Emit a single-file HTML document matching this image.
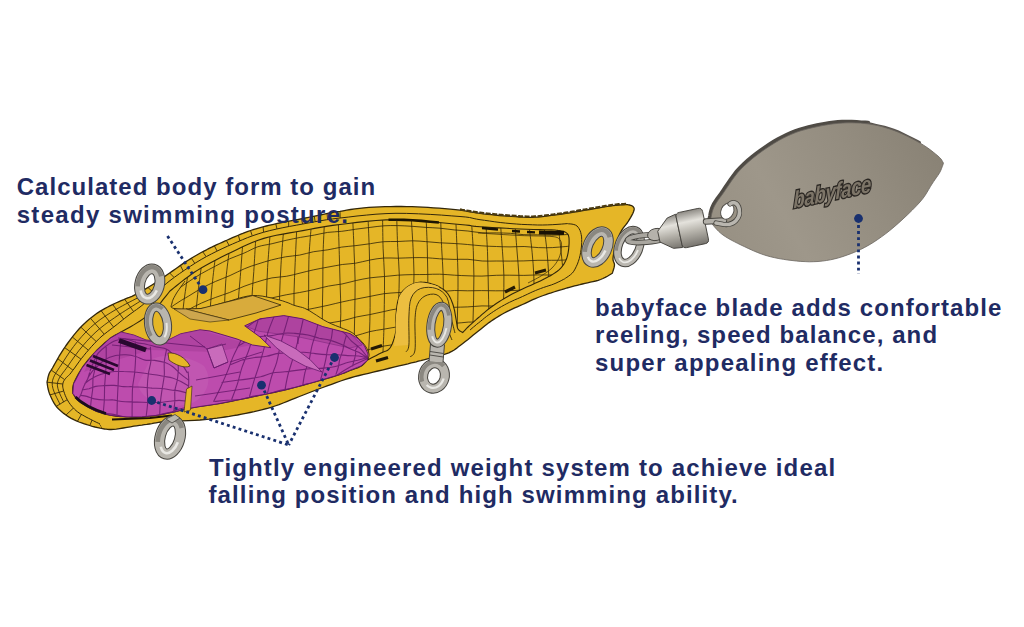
<!DOCTYPE html>
<html><head><meta charset="utf-8"><title>lure</title><style>
html,body{margin:0;padding:0;background:#fff;}
body{width:1024px;height:627px;position:relative;overflow:hidden;font-family:"Liberation Sans",sans-serif;}
.t{position:absolute;white-space:nowrap;font-family:"Liberation Sans",sans-serif;font-weight:bold;color:#1f2b63;font-size:24px;line-height:28px;letter-spacing:1.1px;}
</style></head><body>
<svg width="1024" height="627" viewBox="0 0 1024 627" style="position:absolute;left:0;top:0;filter:blur(0.4px)">
<defs>
<clipPath id="cSil"><path d="M47.0 382.2L47.2 381.3L47.5 380.0L47.8 378.5L48.1 376.9L48.6 375.3L49.0 374.0L49.4 373.0L49.8 372.3L50.2 371.6L50.7 370.9L51.5 369.7L52.5 368.0L53.8 365.6L55.4 362.8L57.2 359.6L59.1 356.2L61.2 352.8L63.4 349.4L65.7 346.0L68.2 342.5L70.9 338.9L73.6 335.4L76.3 332.1L79.0 329.0L81.6 326.2L84.2 323.7L86.9 321.3L89.5 319.1L92.1 317.0L94.7 315.0L97.3 313.1L99.9 311.4L102.5 309.9L105.1 308.4L107.7 307.0L110.3 305.6L113.0 304.3L115.8 303.0L118.5 301.8L121.2 300.6L123.8 299.6L126.0 298.6L127.8 297.8L129.3 297.3L130.6 296.8L131.9 296.3L133.4 295.6L135.3 294.7L137.6 293.4L140.3 292.0L143.1 290.4L146.1 288.6L149.1 286.8L152.0 285.0L155.0 283.1L158.0 281.1L161.1 279.0L164.1 276.9L167.1 274.8L170.0 272.8L172.7 270.9L175.4 269.0L177.9 267.2L180.5 265.4L183.0 263.6L185.6 261.9L188.2 260.2L190.8 258.6L193.4 257.0L196.0 255.5L198.6 254.0L201.2 252.5L203.9 251.1L206.5 249.8L209.1 248.4L211.7 247.2L214.3 245.9L216.9 244.7L219.5 243.5L222.1 242.3L224.7 241.1L227.3 240.0L229.9 238.8L232.5 237.7L235.1 236.6L237.7 235.5L240.2 234.4L242.8 233.4L245.4 232.3L248.0 231.4L250.6 230.5L253.2 229.7L255.9 228.9L258.5 228.1L261.1 227.4L263.8 226.7L266.3 226.0L268.7 225.4L271.1 224.8L273.6 224.3L276.3 223.7L279.4 223.0L282.8 222.3L286.5 221.6L290.4 220.9L294.4 220.1L298.6 219.3L302.8 218.5L307.3 217.6L312.2 216.6L317.2 215.6L322.1 214.6L326.4 213.7L330.0 213.0L332.5 212.5L334.1 212.2L335.2 212.0L336.3 211.9L337.7 211.6L340.0 211.3L343.1 210.8L346.7 210.2L350.6 209.5L354.9 208.9L359.4 208.3L364.0 207.8L368.9 207.4L374.1 207.1L379.5 206.9L385.0 206.7L390.6 206.6L396.0 206.5L401.3 206.5L406.7 206.6L412.0 206.7L417.3 206.9L422.7 207.1L428.0 207.4L433.5 207.8L439.1 208.2L444.8 208.7L450.2 209.2L455.4 209.7L460.0 210.2L464.0 210.7L467.4 211.3L470.5 211.8L473.5 212.4L476.6 212.9L480.0 213.4L483.7 213.9L487.5 214.3L491.5 214.7L495.5 215.1L499.4 215.5L503.4 215.8L507.4 216.1L511.6 216.4L515.7 216.7L519.7 217.0L523.5 217.2L527.0 217.3L530.0 217.3L532.5 217.3L534.8 217.2L537.0 217.1L539.5 216.9L542.5 216.6L546.0 216.2L549.7 215.7L553.8 215.2L557.9 214.6L562.0 214.0L566.0 213.4L569.9 212.8L573.8 212.2L577.7 211.5L581.6 210.8L585.5 210.2L589.4 209.5L593.4 208.8L597.5 208.1L601.7 207.4L605.7 206.7L609.4 206.1L612.8 205.6L615.9 205.3L618.7 205.0L621.4 204.9L623.7 204.8L625.6 204.7L627.0 204.6L627.6 204.7L628.5 204.9L629.5 205.0L630.6 205.3L631.6 205.6L632.3 206.0L632.9 206.5L633.4 207.0L633.8 207.6L634.1 208.3L634.2 209.2L634.0 210.3L633.5 211.7L632.8 213.5L631.8 215.4L630.7 217.4L629.5 219.3L628.4 221.2L627.2 223.0L625.9 224.7L624.5 226.4L623.1 228.2L621.8 230.1L620.6 232.2L619.5 234.6L618.4 237.3L617.4 240.1L616.5 242.9L615.7 245.6L615.0 248.0L614.4 250.2L613.9 252.2L613.6 254.1L613.3 255.9L613.1 257.5L613.0 259.0L613.1 260.3L613.4 261.3L613.8 262.2L614.1 263.0L614.4 263.9L614.5 265.0L614.3 266.3L614.0 267.9L613.5 269.5L613.0 271.1L612.6 272.4L612.3 273.3L611.1 274.0L609.4 275.0L607.4 276.2L605.2 277.4L602.9 278.5L600.6 279.5L598.2 280.3L595.7 281.0L593.0 281.6L590.3 282.2L587.6 282.8L585.0 283.4L582.4 284.0L579.8 284.7L577.2 285.3L574.6 285.9L572.0 286.6L569.4 287.3L566.8 288.0L564.2 288.8L561.6 289.6L559.0 290.3L556.4 291.2L553.8 292.0L551.2 292.9L548.5 293.7L545.9 294.6L543.3 295.5L540.6 296.5L538.0 297.5L535.4 298.6L532.8 299.7L530.2 300.9L527.7 302.1L525.1 303.3L522.5 304.5L519.9 305.7L517.3 306.8L514.7 307.9L512.1 309.1L509.5 310.3L506.9 311.6L504.3 313.0L501.6 314.5L498.9 316.1L496.3 317.7L493.7 319.4L491.3 321.0L489.0 322.6L486.9 324.2L484.9 325.8L482.8 327.5L480.7 329.2L478.4 331.0L475.9 333.0L473.3 335.1L470.7 337.2L468.0 339.4L465.3 341.5L462.8 343.4L460.5 345.2L458.4 346.8L456.4 348.4L454.2 350.0L451.7 351.4L448.8 352.8L445.1 354.1L440.9 355.4L436.4 356.6L431.8 357.8L427.5 358.8L423.8 359.8L420.8 360.6L418.3 361.2L416.2 361.8L414.0 362.3L411.3 362.9L408.0 363.8L403.8 364.8L399.0 365.9L393.8 367.2L388.4 368.5L383.0 369.8L378.0 371.0L373.2 372.2L368.5 373.3L363.8 374.4L359.2 375.5L354.6 376.7L350.0 378.0L345.4 379.4L340.7 381.0L336.1 382.6L331.6 384.3L327.1 385.9L322.8 387.5L318.7 389.0L314.8 390.5L310.9 392.0L307.1 393.5L303.3 395.0L299.4 396.5L295.4 398.1L291.4 399.7L287.3 401.4L283.2 403.0L279.1 404.6L275.0 406.0L270.9 407.3L266.7 408.5L262.5 409.6L258.4 410.6L254.2 411.6L250.0 412.5L245.8 413.4L241.7 414.2L237.5 415.0L233.3 415.7L229.2 416.4L225.0 417.0L220.9 417.6L217.0 418.2L213.1 418.7L209.1 419.2L204.7 419.6L200.0 420.0L194.5 420.3L188.4 420.6L181.9 420.8L175.6 421.1L169.8 421.3L165.0 421.6L161.3 422.0L158.4 422.3L156.0 422.8L153.9 423.2L151.8 423.6L149.4 424.0L146.8 424.4L144.4 424.7L141.9 425.1L139.3 425.4L136.6 425.8L133.8 426.2L130.5 426.8L127.0 427.4L123.3 428.0L119.7 428.6L116.3 429.1L113.4 429.4L111.1 429.5L109.2 429.5L107.7 429.4L106.1 429.2L104.5 429.0L102.5 428.6L100.2 428.2L97.6 427.6L95.0 427.0L92.3 426.3L89.6 425.5L86.9 424.7L84.3 423.8L81.6 422.9L79.0 422.0L76.4 420.9L73.8 419.7L71.2 418.4L68.7 416.9L66.2 415.2L63.7 413.4L61.4 411.5L59.2 409.6L57.2 407.5L55.5 405.3L53.9 402.9L52.6 400.5L51.4 398.0L50.3 395.6L49.4 393.4L48.7 391.2L48.1 389.0L47.7 386.9L47.4 385.0L47.2 383.4L47.0 382.2Z"/></clipPath>
<clipPath id="cFW"><path d="M185.0 279.0L186.6 277.9L188.7 276.3L191.2 274.5L194.1 272.5L197.5 270.3L201.2 268.0L205.6 265.6L210.6 262.8L215.9 260.0L221.5 257.1L227.1 254.3L232.5 251.7L237.6 249.2L242.6 246.8L247.6 244.5L252.8 242.3L258.1 240.3L263.8 238.4L269.8 236.8L276.3 235.3L282.9 234.1L289.6 232.9L296.3 231.7L302.8 230.6L308.9 229.5L314.6 228.4L320.3 227.4L326.3 226.4L332.7 225.4L340.0 224.5L348.2 223.5L357.0 222.4L366.3 221.4L376.0 220.5L386.0 219.9L396.0 219.7L406.7 220.0L418.4 220.7L430.2 221.7L441.6 222.7L451.8 223.7L460.0 224.5L465.6 225.0L469.2 225.4L471.5 225.8L473.5 226.1L476.0 226.4L480.0 226.7L485.6 227.1L492.0 227.5L499.1 227.9L506.3 228.3L513.4 228.7L520.0 229.0L526.5 229.3L533.3 229.5L540.0 229.6L546.1 229.8L551.2 229.9L555.0 230.0L556.2 230.2L557.8 230.4L559.8 230.6L561.7 231.0L563.6 231.4L565.0 232.0L566.1 232.6L567.0 233.3L567.7 234.0L568.3 235.0L568.7 236.3L569.0 238.0L569.1 240.3L569.1 243.2L568.9 246.4L568.6 249.7L568.1 252.8L567.5 255.6L566.8 258.0L565.9 260.3L564.8 262.4L563.7 264.4L562.4 266.2L561.0 268.0L559.3 269.7L557.3 271.3L555.1 272.8L553.0 274.1L551.2 275.2L550.0 276.0L548.7 276.6L547.0 277.5L545.0 278.6L542.7 279.7L540.3 280.9L538.0 282.0L535.6 283.1L533.1 284.2L530.5 285.4L527.8 286.6L525.1 287.8L522.5 289.0L519.9 290.3L517.3 291.5L514.7 292.8L512.1 294.1L509.5 295.5L506.9 297.0L504.3 298.5L501.6 300.1L499.0 301.8L496.3 303.5L493.8 305.3L491.3 307.0L488.9 308.8L486.6 310.7L484.3 312.6L482.1 314.4L480.0 316.3L478.0 318.0L476.1 319.7L474.2 321.3L472.5 322.8L470.9 324.3L469.4 325.7L468.0 327.0L466.8 328.2L465.7 329.3L464.8 330.3L464.0 331.2L463.3 331.9L462.8 332.5L462.2 332.2L461.4 331.8L460.5 331.3L459.6 330.7L458.7 329.9L458.0 329.0L457.5 327.9L457.2 326.6L457.0 325.2L456.8 323.6L456.5 321.9L456.2 320.0L455.8 317.9L455.4 315.6L455.0 313.2L454.6 310.7L454.0 308.3L453.4 306.0L452.7 303.8L451.9 301.7L451.1 299.6L450.1 297.6L449.1 295.7L448.0 294.0L446.8 292.5L445.5 291.2L444.1 290.0L442.6 288.9L441.0 287.9L439.4 287.0L437.7 286.1L435.8 285.3L433.8 284.6L431.8 284.0L429.9 283.4L428.0 283.0L426.2 282.6L424.5 282.4L422.8 282.2L421.0 282.1L419.3 282.2L417.5 282.5L415.6 283.0L413.6 283.7L411.5 284.6L409.6 285.6L407.7 286.8L406.0 288.0L404.5 289.3L403.1 290.7L401.8 292.3L400.7 294.0L399.6 295.9L398.8 298.0L398.0 300.4L397.4 303.1L396.9 306.0L396.6 309.0L396.3 312.1L396.0 315.0L395.9 317.9L395.9 320.9L396.0 323.8L396.0 326.8L395.9 329.7L395.6 332.5L395.0 335.3L394.2 338.2L393.3 341.0L392.3 343.7L391.2 346.0L390.0 348.0L388.7 349.4L387.4 350.4L386.0 351.0L384.5 351.6L382.8 352.2L381.0 353.0L378.9 354.1L376.3 355.4L373.7 356.8L371.2 358.1L369.0 359.2L367.5 360.0L367.7 359.4L368.1 358.5L368.5 357.5L368.9 356.4L369.1 355.2L369.0 354.0L368.7 352.7L368.2 351.3L367.5 349.8L366.8 348.4L365.9 346.9L365.0 345.5L364.0 344.2L362.9 342.9L361.8 341.6L360.5 340.4L359.3 339.2L358.0 338.0L356.9 336.9L355.9 335.9L355.0 334.9L353.8 333.9L352.2 332.7L350.0 331.5L347.1 330.1L343.5 328.7L339.5 327.1L335.4 325.5L331.3 323.8L327.5 322.0L323.9 320.0L320.2 317.7L316.6 315.3L313.1 313.1L309.9 311.0L307.0 309.4L304.5 308.3L302.5 307.5L300.7 307.1L299.0 306.7L297.1 306.2L295.0 305.6L292.7 304.8L290.5 303.8L288.1 302.8L285.5 301.9L282.7 300.9L279.4 300.0L275.6 299.1L271.4 298.0L266.9 297.0L262.2 296.1L257.4 295.6L252.8 295.5L248.2 296.0L243.4 297.0L238.6 298.3L233.8 299.8L229.1 301.3L224.7 302.5L220.5 303.6L216.6 304.8L212.8 305.9L209.0 307.0L205.1 307.9L201.0 308.5L196.4 308.9L191.3 309.1L186.1 309.2L181.3 309.1L177.1 308.9L174.0 308.5L172.2 307.9L171.3 307.2L171.1 306.3L171.3 305.3L171.7 304.2L172.0 303.0L172.3 301.7L172.7 300.4L173.3 299.0L174.1 297.4L175.0 295.8L176.0 294.0L177.3 291.9L179.0 289.5L180.8 286.9L182.5 284.5L184.0 282.5L185.0 281.0Z"/></clipPath>
<clipPath id="cHood"><path d="M102.5 428.6L100.8 428.2L98.5 427.7L95.7 427.0L92.7 426.3L89.7 425.5L86.9 424.7L84.3 423.8L81.6 422.9L79.0 422.0L76.4 420.9L73.8 419.7L71.2 418.4L68.7 416.9L66.2 415.2L63.7 413.4L61.4 411.5L59.2 409.6L57.2 407.5L55.5 405.3L53.9 402.9L52.6 400.5L51.4 398.0L50.3 395.6L49.4 393.4L48.6 391.3L48.0 389.3L47.6 387.4L47.3 385.6L47.1 383.9L47.0 382.2L47.1 380.6L47.3 379.2L47.6 377.8L48.1 376.5L48.5 375.2L49.0 374.0L49.4 373.0L49.8 372.3L50.2 371.6L50.7 370.9L51.5 369.7L52.5 368.0L53.8 365.6L55.4 362.8L57.2 359.6L59.1 356.2L61.2 352.8L63.4 349.4L65.7 346.0L68.2 342.5L70.9 338.9L73.6 335.4L76.3 332.1L79.0 329.0L81.6 326.2L84.2 323.7L86.9 321.3L89.5 319.1L92.1 317.0L94.7 315.0L97.3 313.1L99.9 311.4L102.5 309.9L105.1 308.4L107.7 307.0L110.3 305.6L113.0 304.3L115.8 303.0L118.5 301.8L121.2 300.6L123.8 299.6L126.0 298.6L127.8 297.8L129.3 297.3L130.6 296.8L131.9 296.3L133.4 295.6L135.3 294.7L137.6 293.4L140.3 292.0L143.1 290.4L146.1 288.6L149.1 286.8L152.0 285.0L155.0 283.1L158.0 281.1L161.1 279.0L164.1 276.9L167.1 274.8L170.0 272.8L172.7 270.9L175.4 269.0L177.9 267.2L180.5 265.4L183.0 263.6L185.6 261.9L188.2 260.2L190.8 258.6L193.4 257.0L196.0 255.5L198.6 254.0L201.2 252.5L203.9 251.1L206.5 249.8L209.1 248.4L211.7 247.2L214.3 245.9L216.9 244.7L219.5 243.5L222.1 242.3L224.7 241.1L227.3 240.0L229.9 238.8L232.5 237.7L235.1 236.6L237.7 235.5L240.2 234.4L242.8 233.4L245.4 232.3L248.0 231.4L250.6 230.5L253.2 229.7L255.9 228.9L258.5 228.1L261.1 227.4L263.8 226.7L266.3 226.0L268.7 225.4L271.1 224.8L273.6 224.3L276.3 223.7L279.4 223.0L282.8 222.3L286.5 221.6L290.4 220.9L294.4 220.1L298.6 219.3L302.8 218.5L307.3 217.6L312.2 216.6L317.2 215.6L322.1 214.6L326.4 213.7L330.0 213.0L332.5 212.5L334.1 212.2L335.2 212.0L336.3 211.9L337.7 211.6L340.0 211.3L343.1 210.8L346.7 210.2L350.6 209.5L354.9 208.9L359.4 208.3L364.0 207.8L368.9 207.4L374.1 207.1L379.5 206.9L385.0 206.7L390.6 206.6L396.0 206.5L401.3 206.5L406.7 206.6L412.0 206.7L417.3 206.9L422.7 207.1L428.0 207.4L433.5 207.8L439.1 208.2L444.8 208.7L450.2 209.2L455.4 209.7L460.0 210.2L464.0 210.7L467.4 211.3L470.5 211.8L473.5 212.4L476.6 212.9L480.0 213.4L483.7 213.9L487.5 214.3L491.5 214.7L495.5 215.1L499.4 215.5L503.4 215.8L507.4 216.1L511.6 216.4L515.7 216.7L519.7 217.0L523.5 217.2L527.0 217.3L530.0 217.3L532.5 217.3L534.8 217.2L537.0 217.1L539.5 216.9L542.5 216.6L546.0 216.2L549.7 215.7L553.8 215.2L557.9 214.6L562.0 214.0L566.0 213.4L569.9 212.8L573.8 212.2L577.7 211.5L581.6 210.8L585.5 210.2L589.4 209.5L593.5 208.8L597.8 208.1L602.1 207.3L606.2 206.7L609.8 206.1L612.8 205.6L615.0 205.3L616.7 205.1L617.9 205.1L618.7 205.0L619.4 205.0L620.0 205.0L620.0 212.0L614.7 213.2L606.9 214.9L598.0 216.9L588.9 218.9L580.9 220.7L575.0 222.0L571.8 222.8L570.4 223.2L570.0 223.3L569.9 223.4L569.3 223.4L567.5 223.6L564.4 223.9L560.7 224.2L556.5 224.5L552.0 224.7L547.2 224.9L542.5 225.0L537.6 225.0L532.5 224.8L527.1 224.6L521.7 224.4L516.3 224.0L511.0 223.6L505.7 223.1L500.2 222.5L494.8 221.8L489.5 221.0L484.5 220.3L480.0 219.7L476.5 219.1L474.1 218.6L472.1 218.1L469.5 217.5L465.8 217.0L460.0 216.5L451.8 215.9L441.6 215.1L430.2 214.4L418.4 213.8L406.7 213.4L396.0 213.3L386.0 213.6L376.0 214.2L366.3 215.1L357.0 216.0L348.2 217.1L340.0 218.0L332.7 218.9L326.3 219.8L320.3 220.8L314.6 221.8L308.9 222.9L302.8 224.0L296.3 225.2L289.6 226.4L282.9 227.7L276.3 229.1L269.8 230.6L263.8 232.2L258.1 233.9L252.8 235.7L247.6 237.6L242.6 239.7L237.6 241.8L232.5 244.0L227.3 246.3L222.1 248.7L216.9 251.2L211.7 253.8L206.5 256.5L201.2 259.5L195.9 262.7L190.3 266.3L184.8 270.0L179.4 273.7L174.4 277.3L170.0 280.6L166.2 283.7L162.8 286.7L159.8 289.5L157.1 292.2L154.5 294.7L152.0 297.0L149.6 299.1L147.5 300.9L145.6 302.5L143.7 304.1L141.9 305.5L140.0 307.0L138.1 308.4L136.4 309.7L134.6 310.9L132.9 312.2L131.0 313.5L129.0 315.0L126.9 316.6L124.6 318.4L122.3 320.2L119.9 322.1L117.5 324.1L115.0 326.0L112.5 327.9L109.9 329.9L107.3 331.8L104.7 333.9L102.0 336.0L99.4 338.4L96.8 341.0L94.1 343.8L91.4 346.7L88.8 349.7L86.2 352.7L83.8 355.6L81.4 358.6L79.0 361.8L76.7 365.0L74.6 368.0L72.6 370.6L71.0 372.8L69.7 374.4L68.7 375.4L67.9 376.2L67.2 376.7L66.6 377.3L66.0 378.0L65.3 378.8L64.7 379.6L64.2 380.4L63.7 381.2L63.3 382.1L63.0 383.0L62.8 384.0L62.7 385.0L62.7 386.1L62.8 387.3L63.1 388.6L63.4 390.0L63.9 391.6L64.5 393.4L65.2 395.3L66.1 397.3L67.0 399.2L68.0 401.0L69.1 402.7L70.3 404.4L71.7 406.1L73.1 407.7L74.5 409.2L76.0 410.6L77.5 411.8L79.0 412.9L80.6 414.0L82.3 414.9L84.1 415.9L86.0 417.0L88.3 418.2L90.9 419.5L93.6 420.9L96.2 422.2L98.4 423.2L100.0 424.0Z"/></clipPath>
<linearGradient id="gBlade" gradientUnits="userSpaceOnUse" x1="720" y1="250" x2="930" y2="130"><stop offset="0" stop-color="#979083"/><stop offset="0.3" stop-color="#9e978a"/><stop offset="0.65" stop-color="#948d80"/><stop offset="1" stop-color="#898275"/></linearGradient>
<linearGradient id="gSw" x1="0" y1="0" x2="0" y2="1"><stop offset="0" stop-color="#8d8a84"/><stop offset="0.3" stop-color="#e4e2dc"/><stop offset="0.6" stop-color="#b5b2aa"/><stop offset="1" stop-color="#77746e"/></linearGradient>
</defs>
<path d="M47.0 382.2L47.2 381.3L47.5 380.0L47.8 378.5L48.1 376.9L48.6 375.3L49.0 374.0L49.4 373.0L49.8 372.3L50.2 371.6L50.7 370.9L51.5 369.7L52.5 368.0L53.8 365.6L55.4 362.8L57.2 359.6L59.1 356.2L61.2 352.8L63.4 349.4L65.7 346.0L68.2 342.5L70.9 338.9L73.6 335.4L76.3 332.1L79.0 329.0L81.6 326.2L84.2 323.7L86.9 321.3L89.5 319.1L92.1 317.0L94.7 315.0L97.3 313.1L99.9 311.4L102.5 309.9L105.1 308.4L107.7 307.0L110.3 305.6L113.0 304.3L115.8 303.0L118.5 301.8L121.2 300.6L123.8 299.6L126.0 298.6L127.8 297.8L129.3 297.3L130.6 296.8L131.9 296.3L133.4 295.6L135.3 294.7L137.6 293.4L140.3 292.0L143.1 290.4L146.1 288.6L149.1 286.8L152.0 285.0L155.0 283.1L158.0 281.1L161.1 279.0L164.1 276.9L167.1 274.8L170.0 272.8L172.7 270.9L175.4 269.0L177.9 267.2L180.5 265.4L183.0 263.6L185.6 261.9L188.2 260.2L190.8 258.6L193.4 257.0L196.0 255.5L198.6 254.0L201.2 252.5L203.9 251.1L206.5 249.8L209.1 248.4L211.7 247.2L214.3 245.9L216.9 244.7L219.5 243.5L222.1 242.3L224.7 241.1L227.3 240.0L229.9 238.8L232.5 237.7L235.1 236.6L237.7 235.5L240.2 234.4L242.8 233.4L245.4 232.3L248.0 231.4L250.6 230.5L253.2 229.7L255.9 228.9L258.5 228.1L261.1 227.4L263.8 226.7L266.3 226.0L268.7 225.4L271.1 224.8L273.6 224.3L276.3 223.7L279.4 223.0L282.8 222.3L286.5 221.6L290.4 220.9L294.4 220.1L298.6 219.3L302.8 218.5L307.3 217.6L312.2 216.6L317.2 215.6L322.1 214.6L326.4 213.7L330.0 213.0L332.5 212.5L334.1 212.2L335.2 212.0L336.3 211.9L337.7 211.6L340.0 211.3L343.1 210.8L346.7 210.2L350.6 209.5L354.9 208.9L359.4 208.3L364.0 207.8L368.9 207.4L374.1 207.1L379.5 206.9L385.0 206.7L390.6 206.6L396.0 206.5L401.3 206.5L406.7 206.6L412.0 206.7L417.3 206.9L422.7 207.1L428.0 207.4L433.5 207.8L439.1 208.2L444.8 208.7L450.2 209.2L455.4 209.7L460.0 210.2L464.0 210.7L467.4 211.3L470.5 211.8L473.5 212.4L476.6 212.9L480.0 213.4L483.7 213.9L487.5 214.3L491.5 214.7L495.5 215.1L499.4 215.5L503.4 215.8L507.4 216.1L511.6 216.4L515.7 216.7L519.7 217.0L523.5 217.2L527.0 217.3L530.0 217.3L532.5 217.3L534.8 217.2L537.0 217.1L539.5 216.9L542.5 216.6L546.0 216.2L549.7 215.7L553.8 215.2L557.9 214.6L562.0 214.0L566.0 213.4L569.9 212.8L573.8 212.2L577.7 211.5L581.6 210.8L585.5 210.2L589.4 209.5L593.4 208.8L597.5 208.1L601.7 207.4L605.7 206.7L609.4 206.1L612.8 205.6L615.9 205.3L618.7 205.0L621.4 204.9L623.7 204.8L625.6 204.7L627.0 204.6L627.6 204.7L628.5 204.9L629.5 205.0L630.6 205.3L631.6 205.6L632.3 206.0L632.9 206.5L633.4 207.0L633.8 207.6L634.1 208.3L634.2 209.2L634.0 210.3L633.5 211.7L632.8 213.5L631.8 215.4L630.7 217.4L629.5 219.3L628.4 221.2L627.2 223.0L625.9 224.7L624.5 226.4L623.1 228.2L621.8 230.1L620.6 232.2L619.5 234.6L618.4 237.3L617.4 240.1L616.5 242.9L615.7 245.6L615.0 248.0L614.4 250.2L613.9 252.2L613.6 254.1L613.3 255.9L613.1 257.5L613.0 259.0L613.1 260.3L613.4 261.3L613.8 262.2L614.1 263.0L614.4 263.9L614.5 265.0L614.3 266.3L614.0 267.9L613.5 269.5L613.0 271.1L612.6 272.4L612.3 273.3L611.1 274.0L609.4 275.0L607.4 276.2L605.2 277.4L602.9 278.5L600.6 279.5L598.2 280.3L595.7 281.0L593.0 281.6L590.3 282.2L587.6 282.8L585.0 283.4L582.4 284.0L579.8 284.7L577.2 285.3L574.6 285.9L572.0 286.6L569.4 287.3L566.8 288.0L564.2 288.8L561.6 289.6L559.0 290.3L556.4 291.2L553.8 292.0L551.2 292.9L548.5 293.7L545.9 294.6L543.3 295.5L540.6 296.5L538.0 297.5L535.4 298.6L532.8 299.7L530.2 300.9L527.7 302.1L525.1 303.3L522.5 304.5L519.9 305.7L517.3 306.8L514.7 307.9L512.1 309.1L509.5 310.3L506.9 311.6L504.3 313.0L501.6 314.5L498.9 316.1L496.3 317.7L493.7 319.4L491.3 321.0L489.0 322.6L486.9 324.2L484.9 325.8L482.8 327.5L480.7 329.2L478.4 331.0L475.9 333.0L473.3 335.1L470.7 337.2L468.0 339.4L465.3 341.5L462.8 343.4L460.5 345.2L458.4 346.8L456.4 348.4L454.2 350.0L451.7 351.4L448.8 352.8L445.1 354.1L440.9 355.4L436.4 356.6L431.8 357.8L427.5 358.8L423.8 359.8L420.8 360.6L418.3 361.2L416.2 361.8L414.0 362.3L411.3 362.9L408.0 363.8L403.8 364.8L399.0 365.9L393.8 367.2L388.4 368.5L383.0 369.8L378.0 371.0L373.2 372.2L368.5 373.3L363.8 374.4L359.2 375.5L354.6 376.7L350.0 378.0L345.4 379.4L340.7 381.0L336.1 382.6L331.6 384.3L327.1 385.9L322.8 387.5L318.7 389.0L314.8 390.5L310.9 392.0L307.1 393.5L303.3 395.0L299.4 396.5L295.4 398.1L291.4 399.7L287.3 401.4L283.2 403.0L279.1 404.6L275.0 406.0L270.9 407.3L266.7 408.5L262.5 409.6L258.4 410.6L254.2 411.6L250.0 412.5L245.8 413.4L241.7 414.2L237.5 415.0L233.3 415.7L229.2 416.4L225.0 417.0L220.9 417.6L217.0 418.2L213.1 418.7L209.1 419.2L204.7 419.6L200.0 420.0L194.5 420.3L188.4 420.6L181.9 420.8L175.6 421.1L169.8 421.3L165.0 421.6L161.3 422.0L158.4 422.3L156.0 422.8L153.9 423.2L151.8 423.6L149.4 424.0L146.8 424.4L144.4 424.7L141.9 425.1L139.3 425.4L136.6 425.8L133.8 426.2L130.5 426.8L127.0 427.4L123.3 428.0L119.7 428.6L116.3 429.1L113.4 429.4L111.1 429.5L109.2 429.5L107.7 429.4L106.1 429.2L104.5 429.0L102.5 428.6L100.2 428.2L97.6 427.6L95.0 427.0L92.3 426.3L89.6 425.5L86.9 424.7L84.3 423.8L81.6 422.9L79.0 422.0L76.4 420.9L73.8 419.7L71.2 418.4L68.7 416.9L66.2 415.2L63.7 413.4L61.4 411.5L59.2 409.6L57.2 407.5L55.5 405.3L53.9 402.9L52.6 400.5L51.4 398.0L50.3 395.6L49.4 393.4L48.7 391.2L48.1 389.0L47.7 386.9L47.4 385.0L47.2 383.4L47.0 382.2Z" fill="#e5b627" stroke="#33270a" stroke-width="1.3" stroke-linejoin="round"/>
<path d="M460.0 209.4L462.1 209.8L465.1 210.3L468.5 210.8L472.3 211.5L476.2 212.1L480.0 212.6L483.7 213.1L487.5 213.5L491.5 213.9L495.5 214.3L499.4 214.7L503.4 215.0L507.4 215.3L511.6 215.6L515.7 215.9L519.7 216.2L523.5 216.4L527.0 216.5L530.0 216.5L532.5 216.5L534.8 216.4L537.0 216.3L539.5 216.1L542.5 215.8L546.0 215.4L549.7 214.9L553.8 214.4L557.9 213.8L562.0 213.2L566.0 212.6L569.9 212.0L573.8 211.4L577.7 210.7L581.6 210.0L585.5 209.4L589.4 208.7L593.4 208.0L597.5 207.3L601.7 206.6L605.7 205.9L609.4 205.3L612.8 204.8L615.9 204.5L618.7 204.2L621.4 204.1L623.7 204.0L625.6 203.9L627.0 203.8" fill="none" stroke="#4a3a10" stroke-width="2.2" stroke-dasharray="5 1.5"/>
<path d="M170.0 291.0L171.6 289.7L173.8 287.9L176.5 285.7L179.4 283.4L182.3 281.1L185.0 279.0L187.5 277.2L189.8 275.5L192.1 273.8L194.7 272.0L197.7 270.1L201.2 268.0L205.6 265.6L210.6 262.8L215.9 260.0L221.5 257.1L227.1 254.3L232.5 251.7L237.6 249.2L242.6 246.8L247.6 244.5L252.8 242.3L258.1 240.3L263.8 238.4L269.8 236.8L276.3 235.3L282.9 234.1L289.6 232.9L296.3 231.7L302.8 230.6L308.9 229.5L314.6 228.4L320.3 227.4L326.3 226.4L332.7 225.4L340.0 224.5L348.2 223.5L357.0 222.4L366.3 221.4L376.0 220.5L386.0 219.9L396.0 219.7L406.7 220.0L418.4 220.7L430.2 221.7L441.6 222.7L451.8 223.7L460.0 224.5L465.6 225.0L469.2 225.4L471.5 225.8L473.5 226.1L476.0 226.4L480.0 226.7L485.6 227.1L492.0 227.5L499.1 227.9L506.3 228.3L513.4 228.7L520.0 229.0L526.5 229.3L533.3 229.5L540.0 229.6L546.1 229.8L551.2 229.9L555.0 230.0L556.2 230.2L557.8 230.4L559.8 230.6L561.7 231.0L563.6 231.4L565.0 232.0L566.1 232.6L567.0 233.3L567.7 234.0L568.3 235.0L568.7 236.3L569.0 238.0L569.1 240.3L569.1 243.2L568.9 246.4L568.6 249.7L568.1 252.8L567.5 255.6L566.8 258.0L565.9 260.3L564.8 262.4L563.7 264.4L562.4 266.2L561.0 268.0L559.3 269.7L557.3 271.3L555.1 272.8L553.0 274.1L551.2 275.2L550.0 276.0L548.7 276.6L547.0 277.5L545.0 278.6L542.7 279.7L540.3 280.9L538.0 282.0L535.6 283.1L533.1 284.2L530.5 285.4L527.8 286.6L525.1 287.8L522.5 289.0L519.9 290.3L517.3 291.5L514.7 292.8L512.1 294.1L509.5 295.5L506.9 297.0L504.3 298.5L501.6 300.1L499.0 301.8L496.3 303.5L493.8 305.3L491.3 307.0L488.9 308.8L486.6 310.7L484.3 312.6L482.1 314.4L480.0 316.3L478.0 318.0L476.1 319.7L474.2 321.3L472.5 322.8L470.9 324.3L469.4 325.7L468.0 327.0L466.8 328.2L465.7 329.3L464.8 330.3L464.0 331.2L463.3 331.9L462.8 332.5L462.2 332.2L461.4 331.8L460.5 331.3L459.6 330.7L458.7 329.9L458.0 329.0L457.5 327.9L457.2 326.6L457.0 325.2L456.8 323.6L456.5 321.9L456.2 320.0L455.8 317.9L455.4 315.6L455.0 313.2L454.6 310.7L454.0 308.3L453.4 306.0L452.7 303.8L451.9 301.7L451.1 299.6L450.1 297.6L449.1 295.7L448.0 294.0L446.8 292.5L445.5 291.2L444.1 290.0L442.6 288.9L441.0 287.9L439.4 287.0L437.7 286.1L435.8 285.3L433.8 284.6L431.8 284.0L429.9 283.4L428.0 283.0L426.2 282.6L424.5 282.4L422.8 282.2L421.0 282.1L419.3 282.2L417.5 282.5L415.6 283.0L413.6 283.7L411.5 284.6L409.6 285.6L407.7 286.8L406.0 288.0L404.5 289.3L403.1 290.7L401.8 292.3L400.7 294.0L399.6 295.9L398.8 298.0L398.0 300.4L397.4 303.1L396.9 306.0L396.6 309.0L396.3 312.1L396.0 315.0L395.9 317.9L395.9 320.9L396.0 323.8L396.0 326.8L395.9 329.7L395.6 332.5L395.0 335.3L394.2 338.2L393.3 341.0L392.3 343.7L391.2 346.0L390.0 348.0L388.7 349.4L387.4 350.4L386.0 351.0L384.5 351.6L382.8 352.2L381.0 353.0L378.9 354.1L376.3 355.4L373.7 356.8L371.2 358.1L369.0 359.2L367.5 360.0L366.8 360.7L366.0 361.7L364.9 362.9L363.7 364.1L362.4 365.3L361.0 366.3L359.4 367.1L357.6 367.9L355.7 368.6L353.8 369.3L351.8 369.9L350.0 370.6L348.5 371.2L347.3 371.8L346.1 372.3L344.7 372.9L342.8 373.6L340.0 374.5L336.2 375.7L331.6 377.1L326.4 378.6L321.0 380.1L315.8 381.6L311.0 383.0L306.7 384.2L302.6 385.4L298.6 386.5L294.7 387.5L290.9 388.5L287.0 389.5L283.1 390.4L279.3 391.3L275.5 392.1L271.7 392.9L267.9 393.7L264.0 394.5L260.0 395.3L256.0 396.2L252.0 397.0L248.0 397.9L244.0 398.7L240.0 399.5L236.0 400.3L232.0 401.1L228.1 401.9L224.2 402.7L220.5 403.4L217.0 404.0L213.8 404.5L210.7 405.0L207.8 405.4L205.0 405.8L202.5 406.1L200.0 406.5L197.8 406.8L195.9 407.1L194.1 407.4L192.4 407.7L190.5 408.1L188.4 408.5L186.0 409.0L183.5 409.6L180.9 410.3L178.1 410.9L175.4 411.6L172.8 412.2L170.2 412.8L167.6 413.3L165.0 413.9L162.4 414.4L159.8 414.9L157.2 415.3L154.6 415.7L152.0 416.0L149.4 416.3L146.8 416.5L144.2 416.7L141.6 416.9L139.0 417.0L136.4 417.1L133.8 417.1L131.2 417.1L128.6 417.0L126.0 416.9L123.4 416.8L120.8 416.6L118.1 416.4L115.5 416.1L112.9 415.8L110.3 415.3L107.7 414.7L105.1 414.1L102.5 413.4L99.9 412.6L97.3 411.7L94.7 410.6L92.0 409.3L89.1 407.8L86.3 406.1L83.5 404.4L81.1 402.8L79.0 401.2L77.3 399.8L76.0 398.2L74.9 396.7L74.1 395.4L73.4 394.2L72.8 393.4L72.8 392.4L72.7 391.1L72.7 389.6L72.7 387.8L73.0 385.8L73.6 383.8L74.5 381.5L75.7 378.9L77.1 376.2L78.6 373.5L80.3 370.7L82.0 368.0L83.8 365.4L85.8 362.8L87.9 360.1L90.1 357.6L92.4 355.0L94.7 352.5L97.1 350.0L99.8 347.4L102.5 344.9L105.1 342.5L107.7 340.3L110.0 338.4L112.0 336.9L113.7 335.9L115.3 335.0L116.9 334.2L118.8 333.2L121.0 332.0L123.8 330.4L126.9 328.7L130.2 326.9L133.7 324.9L137.0 322.9L140.0 321.0L142.7 319.1L145.3 317.3L147.8 315.4L150.1 313.5L152.5 311.4L155.0 309.0L157.7 306.1L160.6 302.8L163.4 299.2L166.1 295.9L168.4 293.0L170.0 291.0Z" fill="none" stroke="#33270a" stroke-width="1.1"/>
<path d="M388.5 219.8L396.0 219.7L403.9 219.9L412.5 220.3L421.3 220.9L430.2 221.7L438.9 222.5" fill="none" stroke="#1d1503" stroke-width="2.6"/>
<g clip-path="url(#cFW)"><path d="M159.9 304.5C162.2 302.4 169.4 295.8 174.1 292.1C178.8 288.4 183.4 285.2 188.0 282.1C192.6 279.0 197.0 276.1 201.6 273.5C206.2 270.8 211.0 268.5 215.6 266.0C220.3 263.6 224.9 260.9 229.7 258.8C234.4 256.7 239.3 255.2 243.9 253.2C248.6 251.2 253.0 248.4 257.7 246.8C262.4 245.2 267.4 244.8 272.1 243.7C276.8 242.6 281.3 241.3 286.1 240.3C290.8 239.2 295.7 238.3 300.4 237.4C305.1 236.6 309.7 235.9 314.3 235.1C318.8 234.3 323.1 233.0 327.7 232.4C332.3 231.8 337.2 231.8 341.8 231.3C346.5 230.8 351.0 229.9 355.7 229.2C360.5 228.6 365.4 227.9 370.1 227.4C374.8 226.8 379.4 226.1 384.0 225.8C388.6 225.5 393.0 225.5 397.6 225.6C402.3 225.7 407.4 226.0 412.1 226.3C416.8 226.6 421.2 227.1 425.9 227.4C430.5 227.7 435.2 227.8 440.0 228.2C444.7 228.6 449.6 229.5 454.2 229.9C458.9 230.4 463.2 230.5 467.8 231.0C472.4 231.5 477.3 232.5 482.0 232.8C486.8 233.1 491.5 232.8 496.2 232.9C500.9 233.0 505.8 233.0 510.4 233.3C515.0 233.6 519.4 234.4 523.9 234.7C528.5 234.9 533.1 234.8 537.7 234.8C542.3 234.9 546.9 235.3 551.6 235.2C556.4 235.2 561.4 234.9 566.2 234.6C571.0 234.3 578.0 233.6 580.3 233.4M160.2 316.1C162.5 314.3 169.4 308.3 174.1 305.0C178.7 301.7 183.6 299.1 188.3 296.3C192.9 293.5 197.4 290.5 202.0 288.0C206.5 285.5 211.0 283.5 215.6 281.4C220.3 279.3 225.3 277.7 230.1 275.5C234.9 273.4 239.6 270.7 244.3 268.8C248.9 266.8 253.3 265.4 257.9 264.0C262.5 262.5 267.0 261.1 271.6 259.9C276.3 258.8 281.1 257.6 285.7 256.8C290.4 256.0 295.0 255.9 299.6 255.1C304.3 254.2 309.0 252.6 313.7 251.7C318.4 250.9 323.3 250.6 327.9 249.8C332.6 249.1 337.0 247.8 341.7 247.1C346.4 246.4 351.3 246.2 356.0 245.6C360.8 245.0 365.6 244.3 370.3 243.7C374.9 243.0 379.2 242.0 383.8 241.7C388.4 241.3 393.1 241.7 397.9 241.5C402.6 241.4 407.7 240.8 412.4 240.8C417.0 240.8 421.2 241.3 425.7 241.6C430.3 241.9 435.1 242.5 439.8 242.8C444.5 243.1 449.4 243.2 454.1 243.5C458.7 243.7 463.0 244.1 467.6 244.5C472.2 244.9 477.1 245.5 481.9 245.8C486.7 246.2 491.7 246.4 496.4 246.5C501.0 246.7 505.4 246.9 510.0 246.9C514.6 246.9 519.4 246.4 524.1 246.5C528.9 246.6 533.6 247.5 538.3 247.6C543.0 247.8 547.7 247.8 552.3 247.6C556.9 247.4 561.4 246.8 565.9 246.5C570.5 246.2 577.4 245.8 579.7 245.7M159.6 327.6C162.0 326.1 169.1 321.2 173.8 318.2C178.5 315.3 183.2 312.5 187.9 309.9C192.5 307.4 197.0 305.1 201.6 303.0C206.2 300.9 211.0 299.2 215.7 297.4C220.4 295.6 224.9 294.3 229.6 292.5C234.4 290.6 239.4 288.1 244.1 286.3C248.8 284.5 253.2 283.1 257.8 281.7C262.4 280.3 267.1 278.8 271.9 277.9C276.6 277.0 281.6 277.1 286.3 276.3C291.0 275.5 295.4 274.2 300.0 273.1C304.5 272.0 309.0 270.8 313.7 269.8C318.3 268.8 323.1 268.0 327.9 267.1C332.6 266.3 337.6 265.2 342.3 264.5C346.9 263.9 351.0 263.9 355.6 263.2C360.2 262.4 365.3 260.9 370.0 260.0C374.8 259.1 379.4 258.3 384.0 258.0C388.7 257.7 393.3 258.2 398.0 258.2C402.7 258.1 407.7 257.8 412.3 257.7C416.9 257.6 421.2 257.5 425.8 257.7C430.4 257.9 435.0 258.5 439.7 258.8C444.4 259.0 449.3 259.3 454.0 259.4C458.7 259.5 463.2 259.0 467.9 259.3C472.6 259.6 477.5 260.7 482.2 261.0C487.0 261.3 491.6 261.0 496.3 261.0C500.9 261.0 505.7 261.1 510.3 261.1C514.8 261.1 519.2 261.0 523.8 260.9C528.4 260.8 533.2 260.4 537.9 260.3C542.5 260.2 547.0 260.4 551.6 260.3C556.3 260.3 561.0 260.3 565.8 260.0C570.6 259.7 577.9 258.8 580.4 258.5M160.3 341.4C162.7 339.9 169.8 335.2 174.4 332.6C178.9 329.9 183.2 327.6 187.8 325.5C192.3 323.3 197.0 321.1 201.8 319.4C206.5 317.7 211.3 316.7 216.1 315.1C220.9 313.5 225.6 311.4 230.3 309.8C234.9 308.2 239.6 306.9 244.1 305.5C248.7 304.0 253.0 302.3 257.7 301.0C262.4 299.7 267.6 298.9 272.3 297.8C277.1 296.8 281.6 295.7 286.2 294.8C290.8 293.9 295.1 293.4 299.7 292.5C304.4 291.7 309.1 290.6 313.9 289.6C318.6 288.5 323.7 287.0 328.4 286.1C333.1 285.1 337.3 284.9 341.9 284.0C346.6 283.1 351.5 281.5 356.2 280.5C360.8 279.5 365.0 278.6 369.7 277.9C374.4 277.2 379.7 277.0 384.3 276.5C389.0 276.1 393.0 275.6 397.7 275.2C402.4 274.9 407.7 274.7 412.4 274.6C417.1 274.5 421.3 274.6 425.9 274.5C430.4 274.4 435.0 274.0 439.7 274.2C444.5 274.3 449.7 274.9 454.4 275.2C459.1 275.5 463.4 275.6 468.0 275.8C472.6 275.9 477.2 276.2 481.9 276.1C486.7 276.0 491.6 275.4 496.3 275.3C500.9 275.1 505.2 275.2 509.8 275.2C514.4 275.3 519.1 275.4 523.8 275.4C528.5 275.3 533.2 275.0 537.8 274.9C542.5 274.8 547.0 275.2 551.7 275.0C556.4 274.7 561.2 273.8 565.9 273.4C570.6 273.0 577.7 272.8 580.1 272.6M159.9 353.9C162.3 352.8 169.3 349.1 174.0 346.9C178.7 344.7 183.4 342.4 188.0 340.5C192.7 338.7 197.4 337.1 202.0 335.7C206.5 334.3 211.0 333.5 215.6 332.1C220.2 330.8 225.0 329.0 229.7 327.6C234.5 326.2 239.5 324.9 244.2 323.6C248.9 322.3 253.2 320.8 257.9 319.7C262.5 318.6 267.4 317.9 272.0 317.0C276.7 316.0 281.1 315.1 285.7 314.1C290.3 313.1 295.0 312.0 299.8 311.0C304.6 310.0 309.5 309.1 314.2 308.2C318.9 307.2 323.4 306.3 328.0 305.3C332.7 304.2 337.7 302.9 342.3 301.9C347.0 300.8 351.5 300.0 356.1 299.1C360.7 298.2 365.4 297.3 370.0 296.4C374.7 295.5 379.3 294.4 384.0 293.7C388.6 293.1 393.3 292.9 398.0 292.6C402.7 292.3 407.4 292.1 412.2 291.8C416.9 291.5 421.7 290.8 426.4 290.8C431.0 290.8 435.4 291.6 440.0 291.6C444.7 291.5 449.7 290.7 454.3 290.5C458.9 290.4 463.1 290.8 467.7 290.8C472.3 290.8 477.0 290.6 481.7 290.6C486.3 290.6 490.9 290.8 495.7 290.8C500.4 290.8 505.5 290.8 510.2 290.6C514.9 290.5 519.1 290.3 523.7 289.9C528.4 289.6 533.4 288.9 538.1 288.7C542.9 288.5 547.7 289.1 552.3 288.9C556.9 288.7 561.2 288.2 565.8 287.7C570.4 287.2 577.6 286.1 579.9 285.7M160.4 366.5C162.6 365.5 169.1 362.6 173.7 360.9C178.3 359.2 183.3 357.7 188.0 356.2C192.7 354.8 197.1 353.5 201.8 352.2C206.5 350.8 211.5 349.4 216.2 348.3C220.9 347.1 225.5 346.4 230.0 345.3C234.6 344.2 238.9 342.8 243.6 341.7C248.3 340.6 253.4 339.5 258.1 338.6C262.8 337.7 267.0 337.2 271.7 336.4C276.3 335.6 281.6 334.8 286.2 333.7C290.9 332.7 295.1 331.2 299.7 330.1C304.3 329.1 308.9 328.6 313.6 327.5C318.3 326.3 323.1 324.4 327.8 323.3C332.5 322.2 337.2 322.0 341.9 320.9C346.7 319.9 351.6 318.1 356.3 317.0C360.9 316.0 365.1 315.5 369.7 314.6C374.4 313.7 379.4 312.4 384.1 311.5C388.7 310.5 393.0 309.3 397.7 308.8C402.4 308.2 407.5 308.2 412.2 308.2C416.8 308.1 421.0 308.3 425.7 308.2C430.3 308.1 435.4 307.8 440.1 307.7C444.8 307.5 449.1 307.5 453.7 307.3C458.3 307.2 462.9 307.1 467.7 306.9C472.4 306.7 477.2 306.1 482.0 305.9C486.7 305.8 491.4 306.3 496.0 306.0C500.7 305.8 505.2 304.8 509.8 304.4C514.5 304.0 519.4 304.0 524.0 303.8C528.7 303.5 533.1 303.2 537.7 302.9C542.3 302.5 546.9 302.2 551.6 301.9C556.3 301.5 561.1 301.1 565.8 300.6C570.6 300.2 577.8 299.3 580.2 299.1M160.0 378.3C162.3 377.7 169.2 375.7 173.9 374.5C178.5 373.3 183.1 372.1 187.8 371.1C192.5 370.2 197.5 369.6 202.2 368.7C206.8 367.9 211.1 366.9 215.8 365.9C220.4 364.9 225.6 363.7 230.3 362.7C235.1 361.8 239.6 361.1 244.3 360.3C248.9 359.5 253.4 358.8 258.0 357.9C262.6 357.0 267.2 355.8 271.9 354.9C276.6 354.1 281.5 353.8 286.2 352.9C290.8 352.1 295.2 351.0 299.9 349.9C304.5 348.8 309.5 347.5 314.2 346.3C318.8 345.0 323.3 343.6 327.9 342.3C332.5 341.0 337.0 339.6 341.6 338.5C346.3 337.4 351.0 337.0 355.7 335.8C360.4 334.7 365.1 332.7 369.8 331.6C374.5 330.5 378.9 330.0 383.7 329.2C388.4 328.4 393.6 327.4 398.3 326.7C403.0 326.0 407.2 325.3 411.8 324.8C416.4 324.4 421.2 324.5 425.8 324.3C430.5 324.0 435.1 323.7 439.7 323.6C444.4 323.4 449.0 323.7 453.8 323.4C458.6 323.2 463.7 322.4 468.4 322.1C473.0 321.9 477.2 322.2 481.8 321.9C486.4 321.6 491.2 320.7 495.8 320.3C500.5 319.9 504.9 319.7 509.6 319.4C514.3 319.1 519.3 318.8 524.0 318.5C528.7 318.2 533.2 317.8 537.8 317.4C542.4 317.0 547.0 316.3 551.6 315.8C556.3 315.3 561.0 315.1 565.7 314.5C570.3 313.9 577.3 312.7 579.6 312.3M159.8 391.0C162.2 390.7 169.3 389.9 174.1 389.2C178.8 388.6 183.5 387.9 188.2 387.2C192.9 386.6 197.6 386.2 202.2 385.4C206.8 384.7 211.2 383.6 215.9 382.8C220.6 382.0 225.7 381.2 230.4 380.6C235.1 379.9 239.6 379.5 244.2 378.9C248.7 378.3 252.9 377.6 257.6 376.8C262.3 376.0 267.6 375.0 272.3 374.2C277.1 373.4 281.6 372.8 286.2 371.9C290.8 371.0 295.1 369.7 299.7 368.6C304.3 367.5 309.2 366.6 314.0 365.5C318.8 364.3 323.6 362.9 328.2 361.7C332.9 360.4 337.4 359.2 342.1 357.9C346.7 356.6 351.5 355.4 356.1 354.0C360.8 352.5 365.2 350.6 369.8 349.3C374.4 348.0 379.1 347.0 383.7 346.1C388.4 345.3 393.0 344.8 397.7 344.1C402.4 343.5 407.3 342.7 412.0 342.2C416.8 341.7 421.4 341.6 426.1 341.1C430.8 340.7 435.3 339.7 440.0 339.3C444.7 339.0 449.6 339.4 454.2 339.1C458.9 338.9 463.4 338.2 468.0 337.7C472.7 337.2 477.4 336.5 482.1 336.1C486.8 335.7 491.6 335.5 496.2 335.2C500.8 334.8 505.0 334.4 509.7 333.9C514.3 333.5 519.4 332.9 524.2 332.6C528.9 332.2 533.6 332.5 538.2 332.1C542.8 331.7 547.4 330.5 552.0 329.9C556.6 329.3 561.3 329.1 566.0 328.5C570.7 328.0 577.8 327.0 580.2 326.6M187.5 277.3C186.9 281.3 184.9 293.6 183.9 301.8C182.9 310.0 182.1 318.2 181.4 326.4C180.6 334.6 180.0 342.8 179.6 351.0C179.2 359.2 179.2 367.4 178.9 375.6C178.6 383.8 178.0 396.1 177.8 400.2M201.1 268.1C200.6 272.5 198.7 285.6 197.7 294.3C196.7 303.0 196.0 311.7 195.3 320.4C194.7 329.1 194.2 337.9 193.8 346.6C193.5 355.3 193.5 364.0 193.3 372.7C193.1 381.5 192.9 394.5 192.8 398.9M214.9 260.6C214.4 265.2 212.7 278.9 211.9 288.0C211.0 297.1 210.4 306.3 209.8 315.4C209.3 324.5 208.7 333.6 208.3 342.8C207.9 351.9 207.7 361.0 207.5 370.2C207.3 379.3 206.9 393.0 206.8 397.6M228.9 253.6C228.3 258.4 226.4 272.6 225.7 282.1C224.9 291.6 224.8 301.1 224.4 310.6C223.9 320.1 223.5 329.6 223.0 339.1C222.5 348.6 221.7 358.1 221.5 367.6C221.3 377.1 221.7 391.4 221.8 396.1M242.5 247.1C242.1 252.0 241.1 266.7 240.3 276.5C239.5 286.4 238.5 296.2 237.9 306.0C237.3 315.8 236.9 325.7 236.6 335.5C236.3 345.3 236.0 355.1 236.1 365.0C236.1 374.8 236.7 389.5 236.8 394.4M255.6 241.1C255.3 246.1 254.4 261.3 253.8 271.4C253.1 281.5 252.1 291.6 251.7 301.7C251.2 311.8 251.1 321.9 251.1 332.0C251.0 342.1 251.3 352.1 251.2 362.2C251.2 372.3 250.7 387.5 250.6 392.5M269.9 236.8C269.5 242.0 268.2 257.3 267.6 267.6C267.0 277.8 266.8 288.0 266.5 298.3C266.1 308.5 265.7 318.7 265.5 329.0C265.2 339.2 264.9 349.5 264.9 359.7C265.0 369.9 265.8 385.3 266.0 390.4M283.3 234.0C282.9 239.1 281.6 254.5 281.0 264.8C280.4 275.0 279.9 285.3 279.6 295.6C279.4 305.8 279.5 316.1 279.5 326.4C279.5 336.6 279.5 346.9 279.6 357.2C279.7 367.4 279.9 382.8 280.0 388.0M296.6 231.6C296.4 236.7 295.6 252.1 295.2 262.3C294.8 272.5 294.2 282.8 294.0 293.0C293.8 303.2 294.2 313.4 294.1 323.7C294.0 333.9 293.4 344.1 293.6 354.4C293.7 364.6 294.8 379.9 295.1 385.0M311.0 229.1C310.6 234.2 309.2 249.4 308.9 259.6C308.5 269.8 308.8 279.9 308.7 290.1C308.6 300.2 308.2 310.4 308.2 320.5C308.3 330.7 308.7 340.9 308.9 351.0C309.0 361.2 309.1 376.4 309.2 381.5M324.2 226.7C324.0 231.7 323.2 246.8 323.0 256.8C322.8 266.9 322.9 276.9 322.8 287.0C322.7 297.0 322.3 307.1 322.3 317.1C322.3 327.2 322.5 337.2 322.8 347.3C323.0 357.3 323.7 372.4 323.9 377.4M338.4 224.7C338.5 229.6 339.0 244.5 339.3 254.4C339.6 264.3 339.9 274.2 340.1 284.1C340.4 294.0 340.9 303.9 340.8 313.8C340.7 323.7 339.9 333.6 339.6 343.5C339.3 353.4 339.1 368.3 339.0 373.2M352.9 222.9C353.1 227.8 353.8 242.4 354.1 252.1C354.5 261.9 355.0 271.6 355.1 281.4C355.2 291.1 354.9 300.9 354.8 310.6C354.6 320.4 354.4 330.1 354.2 339.9C354.1 349.6 353.8 364.2 353.7 369.1M368.2 221.3C368.4 226.1 369.0 240.4 369.3 250.0C369.6 259.6 369.7 269.1 369.8 278.7C370.0 288.3 370.2 297.8 370.1 307.4C370.0 317.0 369.8 326.5 369.4 336.1C369.0 345.7 368.1 360.0 367.8 364.8M382.6 220.1C382.7 224.8 382.8 238.9 383.1 248.2C383.4 257.6 384.3 267.0 384.5 276.4C384.7 285.7 384.4 295.1 384.3 304.5C384.1 313.9 384.1 323.2 383.8 332.6C383.5 342.0 382.8 356.1 382.5 360.7M396.8 219.7C396.9 224.3 397.3 238.1 397.7 247.3C398.1 256.5 399.2 265.7 399.3 274.9C399.5 284.1 398.7 293.3 398.5 302.5C398.3 311.7 398.4 320.9 398.1 330.1C397.9 339.3 397.1 353.1 396.8 357.7M411.4 220.2C411.7 224.8 412.6 238.3 413.0 247.3C413.4 256.4 413.9 265.4 414.0 274.4C414.0 283.4 413.4 292.5 413.3 301.5C413.1 310.5 413.2 319.5 412.9 328.6C412.6 337.6 411.7 351.1 411.4 355.7M426.3 221.3C426.4 225.7 427.0 239.0 427.3 247.9C427.5 256.8 427.7 265.6 427.8 274.5C427.9 283.3 427.9 292.2 427.8 301.0C427.6 309.9 427.3 318.8 427.1 327.6C426.9 336.5 426.7 349.8 426.6 354.2M440.8 222.7C440.9 227.0 441.3 240.0 441.7 248.7C442.1 257.4 442.9 266.1 443.1 274.8C443.4 283.4 443.4 292.1 443.2 300.8C443.0 309.5 442.4 318.2 441.9 326.8C441.5 335.5 440.7 348.5 440.4 352.9M456.0 224.2C456.2 228.4 456.7 241.1 457.1 249.6C457.4 258.1 457.9 266.6 458.0 275.0C458.2 283.5 457.9 292.0 457.8 300.5C457.7 309.0 457.5 317.4 457.2 325.9C456.9 334.4 456.3 347.1 456.1 351.4M471.8 225.8C472.0 229.9 472.9 242.3 473.3 250.6C473.6 258.9 473.8 267.1 473.9 275.4C473.9 283.7 473.7 291.9 473.6 300.2C473.4 308.5 473.2 316.7 472.9 325.0C472.6 333.3 472.0 345.7 471.8 349.8M486.1 227.1C486.4 231.2 487.1 243.3 487.5 251.4C487.8 259.4 488.0 267.5 488.1 275.6C488.3 283.7 488.5 291.8 488.6 299.8C488.7 307.9 489.0 316.0 488.7 324.1C488.5 332.1 487.2 344.3 486.9 348.3M500.8 228.0C501.1 232.0 502.0 243.8 502.5 251.8C503.0 259.7 503.7 267.6 503.9 275.5C504.1 283.4 503.7 291.3 503.6 299.2C503.5 307.1 503.5 315.1 503.4 323.0C503.2 330.9 502.7 342.7 502.5 346.7M515.3 228.8C515.6 232.7 516.5 244.3 517.1 252.0C517.7 259.8 518.5 267.5 518.9 275.3C519.3 283.0 519.3 290.8 519.4 298.5C519.5 306.3 519.5 314.0 519.3 321.8C519.0 329.6 518.1 341.2 517.8 345.1M529.5 229.4C529.9 233.2 531.4 244.6 532.1 252.2C532.8 259.8 533.5 267.4 533.8 275.0C534.1 282.6 534.1 290.2 534.1 297.8C534.2 305.4 534.4 313.0 534.3 320.6C534.2 328.1 533.5 339.5 533.3 343.3M544.4 230.0C544.9 233.7 546.4 244.8 547.1 252.3C547.8 259.7 548.2 267.1 548.7 274.6C549.1 282.0 549.4 289.4 549.7 296.9C549.9 304.3 550.1 311.7 550.0 319.2C549.9 326.6 549.2 337.7 549.0 341.5M558.7 229.9C559.1 233.5 560.3 244.5 561.1 251.8C561.8 259.1 562.7 266.4 563.3 273.7C563.9 281.0 564.3 288.3 564.6 295.6C564.9 302.9 565.2 310.2 565.3 317.5C565.3 324.8 565.1 335.8 565.0 339.4M573.8 229.1C574.3 232.7 575.7 243.6 576.4 250.8C577.2 258.0 577.7 265.2 578.2 272.4C578.7 279.6 579.4 286.8 579.6 294.0C579.9 301.3 579.5 308.5 579.7 315.7C579.9 322.9 580.4 333.7 580.6 337.3" fill="none" stroke="#33270a" stroke-width="1" opacity="0.82"/></g>
<path d="M367.5 360.0L367.7 359.4L368.1 358.5L368.5 357.5L368.9 356.4L369.1 355.2L369.0 354.0L368.7 352.7L368.2 351.3L367.5 349.8L366.8 348.4L365.9 346.9L365.0 345.5L364.0 344.2L362.9 342.9L361.8 341.6L360.5 340.4L359.3 339.2L358.0 338.0L356.9 336.9L355.9 335.9L355.0 334.9L353.8 333.9L352.2 332.7L350.0 331.5L347.1 330.1L343.5 328.7L339.5 327.1L335.4 325.5L331.3 323.8L327.5 322.0L323.9 320.0L320.2 317.7L316.6 315.3L313.1 313.1L309.9 311.0L307.0 309.4L304.5 308.3L302.5 307.5L300.7 307.1L299.0 306.7L297.1 306.2L295.0 305.6L292.7 304.8L290.5 303.8L288.1 302.8L285.5 301.9L282.7 300.9L279.4 300.0L275.6 299.1L271.4 298.0L266.9 297.0L262.2 296.1L257.4 295.6L252.8 295.5L248.2 296.0L243.4 297.0L238.6 298.3L233.8 299.8L229.1 301.3L224.7 302.5L220.5 303.6L216.6 304.8L212.8 305.9L209.0 307.0L205.1 307.9L201.0 308.5L196.4 308.9L191.3 309.1L186.1 309.2L181.3 309.1L177.1 308.9L174.0 308.5L172.2 307.9L171.3 307.2L171.1 306.3L171.3 305.3L171.7 304.2L172.0 303.0L172.3 301.7L172.7 300.4L173.3 299.0L174.1 297.4L175.0 295.8L176.0 294.0L177.3 291.9L179.0 289.5L180.8 286.9L182.5 284.5L184.0 282.5L185.0 281.0" fill="none" stroke="#33270a" stroke-width="0.9"/>
<path d="M100.0 424.0L98.4 423.2L96.2 422.2L93.6 420.9L90.9 419.5L88.3 418.2L86.0 417.0L84.1 415.9L82.3 414.9L80.6 414.0L79.0 412.9L77.5 411.8L76.0 410.6L74.5 409.2L73.1 407.7L71.7 406.1L70.3 404.4L69.1 402.7L68.0 401.0L67.0 399.2L66.1 397.3L65.2 395.3L64.5 393.4L63.9 391.6L63.4 390.0L63.1 388.6L62.8 387.3L62.7 386.1L62.7 385.0L62.8 384.0L63.0 383.0L63.3 382.1L63.7 381.2L64.2 380.4L64.7 379.6L65.3 378.8L66.0 378.0L66.6 377.3L67.2 376.7L67.9 376.2L68.7 375.4L69.7 374.4L71.0 372.8L72.6 370.6L74.6 368.0L76.7 365.0L79.0 361.8L81.4 358.6L83.8 355.6L86.2 352.7L88.8 349.7L91.4 346.7L94.1 343.8L96.8 341.0L99.4 338.4L102.0 336.0L104.7 333.9L107.3 331.8L109.9 329.9L112.5 327.9L115.0 326.0L117.5 324.1L119.9 322.1L122.3 320.2L124.6 318.4L126.9 316.6L129.0 315.0L131.0 313.5L132.9 312.2L134.6 310.9L136.4 309.7L138.1 308.4L140.0 307.0L141.9 305.5L143.7 304.1L145.6 302.5L147.5 300.9L149.6 299.1L152.0 297.0L154.5 294.7L157.1 292.2L159.8 289.5L162.8 286.7L166.2 283.7L170.0 280.6L174.4 277.3L179.4 273.7L184.8 270.0L190.3 266.3L195.9 262.7L201.2 259.5L206.5 256.5L211.7 253.8L216.9 251.2L222.1 248.7L227.3 246.3L232.5 244.0L237.6 241.8L242.6 239.7L247.6 237.6L252.8 235.7L258.1 233.9L263.8 232.2L269.8 230.6L276.3 229.1L282.9 227.7L289.6 226.4L296.3 225.2L302.8 224.0L308.9 222.9L314.6 221.8L320.3 220.8L326.3 219.8L332.7 218.9L340.0 218.0L348.2 217.1L357.0 216.0L366.3 215.1L376.0 214.2L386.0 213.6L396.0 213.3L406.7 213.4L418.4 213.8L430.2 214.4L441.6 215.1L451.8 215.9L460.0 216.5L465.8 217.0L469.5 217.5L472.1 218.1L474.1 218.6L476.5 219.1L480.0 219.7L484.5 220.3L489.5 221.0L494.8 221.8L500.2 222.5L505.7 223.1L511.0 223.6L516.3 224.0L521.7 224.4L527.1 224.6L532.5 224.8L537.6 225.0L542.5 225.0L547.3 224.9L552.2 224.7L557.0 224.4L561.3 224.1L564.9 223.8L567.5 223.6L568.6 223.8L570.1 223.9L572.0 224.1L573.8 224.5L575.6 225.1L577.0 226.0L578.1 227.2L579.1 228.7L580.0 230.4L580.7 232.4L581.2 234.5L581.6 236.9L581.7 239.6L581.7 242.7L581.5 246.0L581.1 249.3L580.6 252.6L580.0 255.6L579.3 258.5L578.4 261.3L577.4 264.1L576.2 266.7L575.0 269.1L573.8 271.2L572.3 273.1L570.5 274.7L568.7 276.1L566.9 277.3L565.5 278.2L564.4 279.0L563.3 279.5L561.8 280.3L560.1 281.2L558.1 282.1L556.0 283.1L553.8 284.0L551.5 284.9L548.9 285.7L546.2 286.6L543.4 287.5L540.7 288.5L538.0 289.5L535.4 290.6L532.8 291.7L530.2 292.9L527.7 294.1L525.1 295.3L522.5 296.5L519.9 297.7L517.3 298.8L514.7 299.9L512.1 301.1L509.5 302.3L506.9 303.6L504.3 305.0L501.6 306.5L498.9 308.1L496.3 309.7L493.7 311.4L491.3 313.0L488.9 314.7L486.6 316.4L484.4 318.1L482.3 319.9L480.3 321.5L478.4 323.0L476.6 324.4L475.0 325.8L473.4 327.1L472.0 328.3L470.9 329.3L470.0 330.0" fill="none" stroke="#33270a" stroke-width="1"/>
<g clip-path="url(#cHood)"><path d="M59.9 404.2C58.6 400.7 51.7 389.9 52.2 382.9C52.7 375.9 58.5 369.4 62.8 362.5C67.0 355.6 72.2 347.9 77.6 341.4C83.0 334.9 88.5 328.9 95.0 323.6C101.4 318.2 108.9 313.7 116.3 309.3C123.6 304.9 135.4 299.1 139.2 297.1C143.0 295.1 139.2 297.1 139.2 297.1M63.6 402.1C62.6 399.0 56.7 389.5 57.4 383.5C58.1 377.6 63.6 372.5 67.8 366.2C72.0 359.9 77.5 352.0 82.8 345.8C88.1 339.5 93.3 334.1 99.5 328.8C105.7 323.6 112.9 318.9 119.9 314.1C127.0 309.4 138.1 302.6 141.8 300.2C145.4 297.9 141.8 300.2 141.8 300.2M102.5 428.6 L99.8 424.3M89.8 425.6 L92.1 420.0M77.4 421.4 L81.4 414.4M66.0 415.0 L73.4 408.1M56.3 406.3 L67.2 399.7M50.0 394.9 L63.7 391.0M47.0 382.2 L62.7 384.0M51.2 370.1 L64.6 379.6M57.7 358.7 L72.9 370.1M64.6 347.6 L81.2 359.3M72.3 337.0 L88.5 350.3M80.8 327.1 L96.1 341.4M90.5 318.3 L104.4 334.4M101.1 310.7 L113.4 326.9M112.6 304.4 L123.7 319.2M124.6 299.2 L133.5 311.5M136.6 294.0 L144.5 303.7M148.0 287.5 L154.8 293.9M159.0 280.4 L163.3 286.0M169.7 273.0 L174.1 277.5M180.4 265.4 L183.3 271.3M191.4 258.3 L194.8 263.3M202.7 251.7 L206.2 256.7M214.4 245.9 L217.1 251.0M226.3 240.4 L229.2 245.5M238.3 235.2 L240.0 241.0M250.5 230.5 L252.2 235.7M263.1 226.9 L263.6 232.2M275.8 223.8 L277.0 229.2M288.6 221.2 L288.7 226.5M301.5 218.8 L302.6 224.3M314.3 216.2 L315.1 221.6M327.1 213.6 L327.6 219.8M340.0 211.3 L340.2 218.2" fill="none" stroke="#33270a" stroke-width="1" opacity="0.85"/></g>
<path d="M186.0 309.0L201.0 308.5L224.7 302.5L252.8 295.5L281.0 305.0L256.0 313.0L229.0 320.0L205.0 314.0Z" fill="#d8ab3c" stroke="#33270a" stroke-width="0.8" stroke-linejoin="round"/>
<path d="M174 309 L186 309 L205 314 L229 320 L210 322 L190 319 Z" fill="#cda64e" stroke="#33270a" stroke-width="0.6"/>
<path d="M398.75 298 C402 290 409 284 417.5 282.5 C424 282 432 283.5 439.4 287 L436.25 290 C430 287.5 425 287 420.6 288.5 C415 291 412 294 411.25 298 L408.9 317 L408.9 345 L394 346 L395.6 332.5 L396 315 Z" fill="#ecbe40" stroke="none"/>
<path d="M406.0 352.0C406.5 350.8 408.4 350.8 408.9 345.0C409.4 339.2 408.5 324.8 408.9 317.0C409.3 309.2 409.3 302.8 411.2 298.0C413.2 293.2 416.4 290.1 420.6 288.5C424.8 286.9 431.9 287.0 436.2 288.5C440.6 290.0 444.5 292.8 447.0 297.5C449.5 302.2 449.7 311.1 451.0 317.0C452.3 322.9 454.3 330.3 455.0 333.0" fill="none" stroke="#33270a" stroke-width="0.9"/>
<path d="M410.0 357.0C410.8 355.8 414.2 356.2 415.0 350.0C415.8 343.8 414.6 327.6 415.0 320.0C415.4 312.4 415.8 308.4 417.5 304.4C419.2 300.4 421.9 297.6 425.0 296.0C428.1 294.4 433.0 293.5 436.0 294.5C439.0 295.5 441.3 298.1 443.0 302.0C444.7 305.9 445.0 313.0 446.0 318.0C447.0 323.0 448.0 328.3 449.0 332.0C450.0 335.7 451.5 338.7 452.0 340.0" fill="none" stroke="#33270a" stroke-width="0.9"/>
<path d="M371 349 L382 345.5 M376 361 L388 357.5 M535 273 L546 270 M505 292 L515 287" stroke="#241a05" stroke-width="3.2" fill="none"/>
<path d="M539 232.6 L564 233" stroke="#1a1204" stroke-width="4" fill="none"/><path d="M482 228 L498 229.5 M512 231 L520 231.5 M527 232 L535 232.4" stroke="#1a1204" stroke-width="2.4" fill="none"/>
<path d="M478.0 233.0C485.0 233.4 507.7 234.9 520.0 235.5C532.3 236.1 545.3 235.8 552.0 236.5C558.7 237.2 558.4 238.2 560.0 240.0C561.6 241.8 561.7 244.0 561.5 247.0C561.3 250.0 560.6 254.5 559.0 258.0C557.4 261.5 555.0 265.0 552.0 268.0C549.0 271.0 545.0 273.5 541.0 276.0C537.0 278.5 530.2 281.8 528.0 283.0" fill="none" stroke="#33270a" stroke-width="0.8" opacity="0.9"/>
<clipPath id="cMag"><path d="M72.8 393.4L73.6 383.8L82.0 368.0L94.7 352.5L110.0 338.4L121.0 332.0L133.8 335.0L146.0 340.0L165.0 341.6L180.6 333.8L200.0 329.8L210.0 331.0L237.0 339.0L252.5 345.0L271.0 347.7L260.0 337.0L244.7 325.8L260.0 318.8L283.8 315.6L302.5 318.8L322.8 326.6L350.0 333.6L358.0 338.5L364.5 346.0L368.0 354.0L367.3 360.5L361.0 366.0L350.0 370.3L340.0 374.5L311.0 383.0L287.0 389.5L264.0 394.5L240.0 399.5L217.0 404.0L200.0 406.5L188.4 408.5L172.8 412.2L157.2 415.3L141.6 416.9L126.0 416.9L110.3 415.3L94.7 410.6L79.0 401.2Z"/></clipPath>
<path d="M72.8 393.4L73.6 383.8L82.0 368.0L94.7 352.5L110.0 338.4L121.0 332.0L133.8 335.0L146.0 340.0L165.0 341.6L180.6 333.8L200.0 329.8L210.0 331.0L237.0 339.0L252.5 345.0L271.0 347.7L260.0 337.0L244.7 325.8L260.0 318.8L283.8 315.6L302.5 318.8L322.8 326.6L350.0 333.6L358.0 338.5L364.5 346.0L368.0 354.0L367.3 360.5L361.0 366.0L350.0 370.3L340.0 374.5L311.0 383.0L287.0 389.5L264.0 394.5L240.0 399.5L217.0 404.0L200.0 406.5L188.4 408.5L172.8 412.2L157.2 415.3L141.6 416.9L126.0 416.9L110.3 415.3L94.7 410.6L79.0 401.2Z" fill="#bd4cad" stroke="#65186a" stroke-width="1" stroke-linejoin="round"/>
<g clip-path="url(#cMag)">
<path d="M244.7 325.8 L260 318.75 L283.75 315.6 L302.5 318.75 L322.8 326.6 L350 333.6 L362 345 L350 348 L297.8 336.7 L258.75 331.25 Z" fill="#a03a92" opacity="0.5" stroke="#65186a" stroke-width="0.9"/>
<path d="M297.8 336.7 L298 344" stroke="#65186a" stroke-width="0.9"/>
<path d="M121 332 L200 329.8 L252 345 L215 352 L150 350 L110 362 L84 372 L94 352 Z" fill="#a03a92" opacity="0.45"/>
<path d="M207 349 L222 344 L228 362 L214 368 Z" fill="#c96bbb" stroke="#65186a" stroke-width="0.7"/>
<path d="M150 360 C165 352 190 356 204 366 C214 380 206 398 190 404 C165 410 140 400 138 384 Z" fill="#c96bbb" opacity="0.35"/>
<path d="M246.4 327.8C248.0 326.6 253.1 322.1 256.4 320.4C259.6 318.7 262.3 318.6 266.0 317.5C269.6 316.4 274.3 314.6 278.2 313.9C282.2 313.3 285.9 313.6 289.6 313.8C293.3 314.0 297.0 314.4 300.6 315.0C304.3 315.6 307.8 316.1 311.5 317.2C315.1 318.3 318.8 320.1 322.5 321.6C326.3 323.1 330.5 324.4 334.1 326.2C337.6 328.0 340.9 330.1 343.8 332.6C346.7 335.0 348.7 338.4 351.5 341.1C354.3 343.8 357.8 346.0 360.4 348.6C363.1 351.3 366.1 355.6 367.3 357.0M237.8 346.4C239.5 345.4 244.3 342.1 248.1 340.5C251.9 338.8 256.8 337.4 260.7 336.6C264.6 335.8 267.8 336.2 271.7 335.6C275.7 335.0 280.4 333.5 284.2 333.2C288.1 332.8 291.0 333.1 294.9 333.4C298.9 333.7 304.0 334.2 308.0 335.0C312.1 335.8 315.6 337.3 319.2 338.2C322.8 339.0 326.0 339.1 329.7 340.1C333.3 341.1 337.8 342.8 341.1 344.2C344.4 345.6 346.6 347.2 349.5 348.5C352.5 349.9 355.8 350.8 358.7 352.3C361.7 353.8 365.8 356.8 367.2 357.7M230.7 364.7C232.6 363.9 238.5 361.1 242.2 359.9C246.0 358.8 249.1 358.4 253.2 357.8C257.3 357.2 262.5 357.0 266.6 356.3C270.8 355.5 274.1 354.0 278.1 353.4C282.0 352.9 286.2 353.1 290.5 353.0C294.7 352.8 299.3 352.2 303.4 352.3C307.5 352.4 311.3 353.2 315.2 353.6C319.1 354.0 323.2 354.4 327.0 354.6C330.8 354.8 334.4 354.6 337.9 354.7C341.3 354.9 344.3 355.4 347.8 355.6C351.2 355.8 355.2 355.6 358.5 356.0C361.8 356.4 366.0 357.6 367.5 357.9M221.6 382.6C223.6 382.3 229.5 381.3 233.7 380.7C237.9 380.2 242.4 379.8 246.9 379.1C251.4 378.5 256.3 377.8 260.6 376.8C264.8 375.7 268.3 373.9 272.3 373.0C276.4 372.2 280.5 372.3 284.8 371.8C289.1 371.4 294.2 370.7 298.4 370.1C302.6 369.6 306.1 369.1 310.2 368.7C314.3 368.4 319.1 368.5 323.3 368.1C327.5 367.8 331.5 367.4 335.4 366.5C339.3 365.7 342.8 363.8 346.5 362.8C350.2 361.7 354.1 361.1 357.7 360.3C361.3 359.4 366.4 358.0 368.1 357.5M214.4 401.5C216.5 401.3 222.7 400.6 227.0 400.2C231.3 399.9 235.7 400.2 240.2 399.5C244.7 398.8 249.7 397.0 254.1 396.1C258.6 395.3 262.6 395.4 267.0 394.4C271.4 393.4 275.8 391.4 280.3 390.3C284.8 389.2 289.4 388.9 293.9 387.9C298.4 386.8 303.0 384.9 307.3 383.9C311.6 382.9 315.4 383.1 319.6 382.0C323.9 381.0 328.9 379.5 332.9 377.6C336.9 375.7 339.9 372.9 343.7 370.7C347.5 368.4 351.4 366.1 355.6 364.0C359.8 362.0 366.6 359.1 368.8 358.1M246.7 326.8C245.6 329.3 242.5 336.8 240.2 341.9C237.9 347.0 234.9 352.5 232.8 357.4C230.7 362.4 229.6 366.4 227.5 371.4C225.5 376.3 222.9 382.1 220.6 387.2C218.2 392.3 214.7 399.4 213.5 401.8M258.6 318.6C257.7 321.4 255.0 330.0 253.3 335.4C251.6 340.8 250.4 345.7 248.5 351.0C246.6 356.3 243.8 362.0 242.0 367.4C240.2 372.8 239.3 378.0 237.6 383.4C235.9 388.8 232.6 396.9 231.6 399.6M274.5 315.3C273.5 318.0 270.2 325.6 268.4 331.0C266.7 336.5 265.6 342.7 264.1 348.2C262.6 353.6 261.3 358.3 259.6 363.8C257.9 369.3 255.6 375.7 253.9 381.2C252.2 386.7 250.2 394.3 249.4 396.9M289.0 314.7C288.3 317.3 286.1 324.9 284.6 330.0C283.1 335.2 281.6 340.3 280.3 345.7C278.9 351.1 278.1 357.3 276.6 362.6C275.1 367.8 272.9 372.1 271.4 377.2C269.9 382.3 268.2 390.5 267.5 393.1M303.8 316.7C303.2 319.1 301.7 326.4 300.5 331.3C299.3 336.2 297.8 341.4 296.5 346.1C295.2 350.8 294.0 354.9 292.6 359.7C291.2 364.5 289.2 369.9 287.9 375.0C286.6 380.2 285.4 387.8 284.9 390.3M318.7 320.7C318.2 322.8 316.8 329.2 315.7 333.5C314.5 337.7 313.0 341.7 311.9 346.1C310.8 350.6 310.2 355.8 309.1 360.2C307.9 364.6 306.0 368.1 305.0 372.5C303.9 376.8 303.0 383.9 302.6 386.2M332.9 326.2C332.6 328.2 332.1 334.9 331.3 338.5C330.5 342.1 328.8 344.5 327.8 348.0C326.9 351.5 326.6 355.6 325.8 359.4C325.0 363.2 324.0 367.2 323.1 370.8C322.1 374.4 320.7 379.3 320.2 381.0M346.5 335.0C346.1 336.5 344.6 341.3 344.0 343.9C343.3 346.5 343.4 348.3 342.7 350.8C342.0 353.3 340.5 356.4 339.8 359.1C339.1 361.8 339.0 364.4 338.4 367.0C337.7 369.6 336.2 373.4 335.8 374.7M357.6 346.6C357.2 347.2 355.8 349.1 355.5 350.2C355.2 351.4 355.8 352.3 355.7 353.5C355.6 354.8 355.2 356.3 354.8 357.8C354.4 359.3 353.8 361.2 353.4 362.7C353.1 364.1 352.7 365.8 352.5 366.4M367.9 357.1C367.9 357.2 367.9 357.4 367.9 357.5C367.9 357.5 368.0 357.2 367.9 357.3C367.8 357.4 367.2 357.8 367.2 357.8C367.2 357.8 367.8 357.3 368.0 357.4C368.2 357.5 368.3 358.3 368.4 358.4" fill="none" stroke="#65186a" stroke-width="1.1" opacity="0.8"/>
<path d="M264 335 Q299 344.5 322 372 Q287 362.5 264 335 Z" fill="#c96bbb" stroke="#65186a" stroke-width="0.8"/>
<path d="M89.9 371.4C90.6 369.8 92.4 364.7 93.8 361.6C95.2 358.6 96.2 355.7 98.2 353.1C100.3 350.6 103.0 348.3 105.9 346.2C108.8 344.2 112.4 341.8 115.8 340.6C119.2 339.4 122.8 338.8 126.2 339.2C129.7 339.5 133.2 341.8 136.5 342.6C139.9 343.5 142.8 343.5 146.1 344.2C149.4 344.9 152.8 346.0 156.3 346.9C159.8 347.7 163.9 347.7 167.1 349.4C170.3 351.0 172.9 354.4 175.4 356.9C177.9 359.4 180.0 361.7 182.0 364.4C184.0 367.0 186.5 371.5 187.4 372.9M87.6 378.4C88.5 377.1 91.2 372.6 93.0 370.4C94.8 368.2 96.4 367.2 98.5 365.4C100.5 363.6 102.3 361.0 105.2 359.4C108.0 357.7 112.2 356.3 115.6 355.5C119.1 354.8 122.5 354.7 125.9 354.8C129.3 355.0 132.6 355.6 135.8 356.5C139.0 357.4 142.0 359.5 145.1 360.1C148.3 360.8 151.3 360.0 154.6 360.4C158.0 360.8 162.0 361.6 165.1 362.6C168.1 363.7 170.3 364.8 172.8 366.7C175.4 368.6 177.8 371.7 180.4 373.9C183.0 376.1 187.0 378.9 188.3 379.9M84.6 383.7C85.5 383.1 87.8 381.1 89.9 379.7C92.0 378.4 94.6 376.8 97.2 375.7C99.9 374.6 103.1 373.7 106.0 373.0C108.9 372.3 111.7 371.8 114.6 371.5C117.6 371.3 120.4 371.4 123.7 371.5C127.0 371.5 131.0 371.7 134.5 372.0C138.0 372.3 141.3 372.8 144.6 373.3C148.0 373.8 151.8 374.2 154.9 374.7C158.1 375.2 160.6 375.8 163.6 376.3C166.5 376.9 169.6 377.1 172.5 378.0C175.4 378.9 178.2 380.2 180.9 381.5C183.5 382.9 187.3 385.2 188.6 386.0M83.1 389.7C84.1 389.5 87.0 389.2 89.1 388.7C91.2 388.1 93.3 386.9 95.7 386.4C98.2 385.9 100.7 385.8 103.8 385.6C106.9 385.4 110.8 385.3 114.1 385.4C117.4 385.6 120.5 386.4 123.6 386.6C126.7 386.8 129.4 386.6 132.7 386.7C136.0 386.8 140.2 387.0 143.4 387.2C146.6 387.5 148.9 387.8 152.0 388.1C155.1 388.3 158.7 388.2 161.9 388.5C165.0 388.8 168.0 389.6 171.0 390.0C174.1 390.4 177.1 390.5 180.0 391.1C182.9 391.7 186.9 393.1 188.2 393.6M79.7 395.2C80.9 395.4 84.4 395.8 86.8 396.4C89.3 397.0 91.4 398.3 94.4 398.9C97.3 399.5 101.5 399.9 104.6 400.0C107.7 400.2 110.2 399.6 113.1 399.9C115.9 400.1 118.7 401.2 121.9 401.5C125.2 401.8 129.2 401.8 132.6 401.9C136.0 402.1 139.0 402.2 142.4 402.3C145.7 402.4 149.5 402.5 152.5 402.5C155.6 402.5 158.0 402.6 160.9 402.4C163.7 402.2 166.6 401.5 169.7 401.2C172.7 400.9 176.2 400.4 179.1 400.4C182.0 400.4 185.9 401.2 187.2 401.3M77.1 400.1C78.7 400.9 83.7 403.4 86.5 405.1C89.2 406.8 90.8 408.9 93.6 410.2C96.4 411.6 100.0 412.4 103.3 413.1C106.6 413.8 110.1 413.9 113.2 414.4C116.2 414.9 118.8 415.6 121.7 416.2C124.6 416.8 127.4 417.7 130.7 417.9C134.1 418.1 138.5 417.4 141.6 417.2C144.8 416.9 146.6 416.9 149.7 416.4C152.9 416.0 157.2 415.2 160.5 414.5C163.9 413.8 166.9 413.2 169.8 412.4C172.8 411.5 175.2 410.3 178.2 409.4C181.1 408.6 186.0 407.5 187.5 407.2M89.7 372.4C89.4 373.4 88.6 376.5 88.0 378.2C87.3 379.9 86.4 381.0 85.6 382.8C84.7 384.5 83.7 386.7 82.9 388.7C82.1 390.6 81.8 392.5 80.9 394.4C80.0 396.4 78.1 399.3 77.6 400.3M96.9 357.1C96.7 358.8 96.2 363.5 95.5 366.9C94.9 370.2 93.6 373.7 93.1 377.4C92.7 381.0 93.0 385.4 92.7 388.7C92.5 392.1 91.9 394.6 91.5 397.7C91.1 400.9 90.6 406.2 90.5 407.8M106.2 347.1C106.2 349.2 106.3 355.5 106.2 360.0C106.1 364.4 105.9 369.3 105.6 373.8C105.3 378.3 104.8 382.5 104.6 386.8C104.4 391.2 104.6 395.8 104.3 400.2C104.1 404.6 103.4 411.1 103.2 413.2M120.9 339.7C120.7 342.3 119.9 350.2 119.6 355.4C119.2 360.7 118.9 366.2 118.6 371.1C118.4 376.0 118.3 379.6 118.1 384.7C117.8 389.8 117.5 396.4 117.3 401.5C117.1 406.6 117.1 412.9 117.0 415.2M135.3 341.3C135.3 344.0 135.7 352.2 135.6 357.4C135.5 362.6 135.1 367.6 134.7 372.6C134.2 377.6 133.0 382.3 132.6 387.3C132.2 392.4 132.3 397.7 132.2 402.8C132.1 407.9 132.1 415.4 132.1 417.9M150.4 346.8C150.5 349.1 151.2 356.5 150.9 361.0C150.5 365.4 149.0 369.3 148.4 373.7C147.8 378.1 147.4 382.5 147.3 387.4C147.2 392.3 147.8 397.9 147.6 402.9C147.4 407.8 146.3 414.6 146.1 416.9M166.5 349.6C166.2 351.7 164.7 357.9 164.3 362.2C163.9 366.5 164.6 370.9 164.3 375.3C163.9 379.7 162.9 384.3 162.2 388.6C161.6 392.9 160.9 396.8 160.5 401.2C160.0 405.6 159.8 412.7 159.7 414.9M178.0 359.5C178.1 361.2 178.4 366.6 178.3 370.1C178.1 373.6 177.8 377.2 177.2 380.6C176.6 384.0 175.3 387.0 174.9 390.5C174.5 394.0 175.0 397.9 174.8 401.4C174.6 405.0 173.9 409.9 173.8 411.6M188.1 371.5C188.2 372.7 188.6 376.1 188.7 378.5C188.7 380.8 188.8 383.4 188.6 385.8C188.3 388.2 187.1 390.4 187.1 393.1C187.1 395.7 188.5 399.2 188.5 401.7C188.5 404.1 187.3 406.9 187.1 408.0" fill="none" stroke="#65186a" stroke-width="1.1" opacity="0.8"/>
<path d="M118 338 L205 347 M112 345 L150 349 M190 336 L207 349 L226 344 M207 349 L214 368 L228 362 M195 396 L250 388 M196 380 L240 372 M230 362 L262 352" fill="none" stroke="#65186a" stroke-width="1" opacity="0.8"/>
</g>
<path d="M186.5 389 L192 386 L190.5 410 L184 412 Z" fill="#e5b627" stroke="#33270a" stroke-width="0.6"/>
<path d="M168 353 C176 352 186 358 190 366 C184 369 174 364 169 360 Z" fill="#e5b627" stroke="#33270a" stroke-width="0.7"/>
<path d="M75.5 397 C82 404 92 409 106 413.5" stroke="#1c0d1e" stroke-width="2.6" fill="none"/><path d="M112 419.5 L150 418 L172 415.5" stroke="#1c1204" stroke-width="2" fill="none"/>
<path d="M119 340.5 L146 350" stroke="#2a0830" stroke-width="5" fill="none"/>
<path d="M93 356 L118 366 M90 360.5 L114 370 M86.5 365 L110 374" stroke="#2a0830" stroke-width="2.6" fill="none"/>
<g transform="translate(158.0 324.0) rotate(-8.0)"><ellipse rx="9.3" ry="17.0" fill="none" stroke="#46443f" stroke-width="9.2"/><ellipse rx="9.3" ry="17.0" fill="none" stroke="#b9b6af" stroke-width="7.2"/><ellipse rx="10.7" ry="18.4" fill="none" stroke="#8a8780" stroke-width="3.6" stroke-dasharray="42.2 50.6" stroke-dashoffset="-35.2"/><ellipse rx="8.6" ry="16.3" fill="none" stroke="#e9e8e4" stroke-width="2.0" stroke-dasharray="25.3 67.5" stroke-dashoffset="-82.1"/></g>
<g transform="translate(149.7 284.0) rotate(14.0)"><ellipse rx="9.8" ry="15.4" fill="none" stroke="#46443f" stroke-width="10.8"/><ellipse rx="9.8" ry="15.4" fill="none" stroke="#b9b6af" stroke-width="8.8"/><ellipse rx="11.6" ry="17.2" fill="none" stroke="#8a8780" stroke-width="4.4" stroke-dasharray="40.1 48.1" stroke-dashoffset="-40.1"/><ellipse rx="8.9" ry="14.5" fill="none" stroke="#e9e8e4" stroke-width="2.5" stroke-dasharray="24.0 64.1" stroke-dashoffset="-4.5"/></g>
<g transform="translate(170.0 437.5) rotate(16.0)"><ellipse rx="9.8" ry="17.0" fill="none" stroke="#46443f" stroke-width="11.2"/><ellipse rx="9.8" ry="17.0" fill="none" stroke="#b9b6af" stroke-width="9.2"/><ellipse rx="11.6" ry="18.8" fill="none" stroke="#8a8780" stroke-width="4.6" stroke-dasharray="42.9 51.4" stroke-dashoffset="-40.5"/><ellipse rx="8.9" ry="16.1" fill="none" stroke="#e9e8e4" stroke-width="2.6" stroke-dasharray="25.7 68.6" stroke-dashoffset="-2.4"/></g>
<path d="M166 419 L175 414.5 L180 418 L172 423 Z" fill="#b9b6af" stroke="#46443f" stroke-width="0.8"/>
<g transform="translate(434.0 376.0) rotate(15.0)"><ellipse rx="10.8" ry="12.8" fill="none" stroke="#46443f" stroke-width="10.0"/><ellipse rx="10.8" ry="12.8" fill="none" stroke="#b9b6af" stroke-width="8.0"/><ellipse rx="12.4" ry="14.4" fill="none" stroke="#8a8780" stroke-width="4.0" stroke-dasharray="37.1 44.6" stroke-dashoffset="-33.0"/><ellipse rx="10.0" ry="12.0" fill="none" stroke="#e9e8e4" stroke-width="2.2" stroke-dasharray="22.3 59.4" stroke-dashoffset="-0.0"/></g>
<path d="M437.5 344 L436 362" stroke="#46443f" stroke-width="15" /><path d="M437.5 344 L436 362" stroke="#b9b6af" stroke-width="13" /><path d="M430 351.5 L443.5 353.5 M429.8 355 L443.2 357" stroke="#46443f" stroke-width="0.9"/>
<g transform="translate(439.3 324.7) rotate(8.0)"><ellipse rx="8.3" ry="18.6" fill="none" stroke="#46443f" stroke-width="9.0"/><ellipse rx="8.3" ry="18.6" fill="none" stroke="#b9b6af" stroke-width="7.0"/><ellipse rx="9.7" ry="20.0" fill="none" stroke="#8a8780" stroke-width="3.5" stroke-dasharray="43.8 52.6" stroke-dashoffset="-41.4"/><ellipse rx="7.6" ry="17.9" fill="none" stroke="#e9e8e4" stroke-width="2.0" stroke-dasharray="26.3 70.1" stroke-dashoffset="-2.4"/></g>
<g transform="translate(597.5 247.0) rotate(24.0)"><ellipse rx="9.6" ry="16.4" fill="none" stroke="#46443f" stroke-width="10.6"/><ellipse rx="9.6" ry="16.4" fill="none" stroke="#b9b6af" stroke-width="8.6"/><ellipse rx="11.3" ry="18.1" fill="none" stroke="#8a8780" stroke-width="4.3" stroke-dasharray="41.5 49.9" stroke-dashoffset="-36.9"/><ellipse rx="8.7" ry="15.5" fill="none" stroke="#e9e8e4" stroke-width="2.4" stroke-dasharray="24.9 66.5" stroke-dashoffset="-0.0"/></g>
<g transform="translate(629.0 246.5) rotate(22.0)"><ellipse rx="10.3" ry="17.3" fill="none" stroke="#46443f" stroke-width="8.5"/><ellipse rx="10.3" ry="17.3" fill="none" stroke="#b9b6af" stroke-width="6.5"/><ellipse rx="11.6" ry="18.6" fill="none" stroke="#8a8780" stroke-width="3.2" stroke-dasharray="44.1 52.9" stroke-dashoffset="-39.2"/><ellipse rx="9.7" ry="16.7" fill="none" stroke="#e9e8e4" stroke-width="1.8" stroke-dasharray="26.4 70.5" stroke-dashoffset="-0.0"/></g>
<g transform="translate(646.5 238.6) rotate(-5)"><ellipse rx="19" ry="3.6" fill="none" stroke="#46443f" stroke-width="5.6"/><ellipse rx="19" ry="3.6" fill="none" stroke="#a9a69f" stroke-width="3.8"/></g>
<ellipse cx="656" cy="234.5" rx="8.5" ry="6" fill="#b5b2ab" stroke="#46443f" stroke-width="0.9" transform="rotate(-12 656 234.5)"/>
<g transform="translate(683 230) rotate(-12)">
<path d="M-25 -4 L-13 -15 L-4 -17 L-4 17 L-13 16 L-25 7 Z" fill="url(#gSw)" stroke="#46443f" stroke-width="0.9"/>
<rect x="-4" y="-18" width="27" height="36" rx="4" fill="url(#gSw)" stroke="#46443f" stroke-width="0.9"/>
</g>
<path d="M710.5 220.0L710.8 218.6L711.2 216.7L711.6 214.4L712.2 212.0L713.0 209.4L714.0 207.0L715.2 204.7L716.6 202.4L718.2 200.1L719.9 197.7L721.9 195.0L724.0 192.0L726.3 188.6L728.9 184.8L731.6 180.8L734.5 176.8L737.6 172.8L741.0 169.0L744.7 165.4L748.7 161.8L752.9 158.2L757.3 154.8L761.7 151.5L766.0 148.5L770.3 145.7L774.6 143.0L778.9 140.4L783.3 138.1L787.7 135.9L792.0 134.0L796.3 132.3L800.7 130.8L805.1 129.6L809.4 128.4L813.7 127.4L818.0 126.5L822.2 125.6L826.4 124.9L830.5 124.2L834.6 123.7L838.8 123.3L843.0 123.0L847.6 122.9L852.6 123.0L857.6 123.3L862.2 123.6L866.2 123.8L869.0 124.0" fill="none" stroke="#4f4b45" stroke-width="4.2" stroke-linecap="round" transform="translate(-0.9 -1.1)"/>
<path d="M869.0 124.0L871.7 124.6L875.4 125.5L879.9 126.5L884.7 127.6L889.5 129.0L894.0 130.5L898.6 132.4L903.6 134.7L908.6 137.2L913.2 139.5L917.2 141.6L920.0 143.0" fill="none" stroke="#5a554f" stroke-width="2.6" stroke-linecap="round" transform="translate(-0.3 -0.6)"/>
<path d="M710.5 220.0L710.8 218.6L711.2 216.7L711.6 214.4L712.2 212.0L713.0 209.4L714.0 207.0L715.2 204.7L716.6 202.4L718.2 200.1L719.9 197.7L721.9 195.0L724.0 192.0L726.3 188.6L728.9 184.8L731.6 180.8L734.5 176.8L737.6 172.8L741.0 169.0L744.7 165.4L748.7 161.8L752.9 158.2L757.3 154.8L761.7 151.5L766.0 148.5L770.3 145.7L774.6 143.0L778.9 140.4L783.3 138.1L787.7 135.9L792.0 134.0L796.3 132.3L800.7 130.8L805.1 129.6L809.4 128.4L813.7 127.4L818.0 126.5L822.2 125.6L826.4 124.9L830.5 124.2L834.6 123.7L838.8 123.3L843.0 123.0L847.3 122.8L851.6 122.8L856.0 122.9L860.4 123.1L864.7 123.5L869.0 124.0L873.2 124.7L877.4 125.5L881.5 126.5L885.6 127.7L889.8 129.0L894.0 130.5L898.4 132.2L902.9 134.2L907.4 136.3L911.9 138.6L916.1 140.8L920.0 143.0L923.6 145.2L927.1 147.5L930.3 149.8L933.2 152.1L935.8 154.2L938.0 156.0L939.7 157.6L941.0 159.0L941.9 160.3L942.5 161.4L943.0 162.3L943.5 163.0L943.2 163.9L942.8 165.2L942.2 166.8L941.6 168.4L940.9 170.2L940.0 172.0L939.0 173.8L937.8 175.6L936.5 177.4L935.1 179.4L933.6 181.6L932.0 184.0L930.4 186.6L928.8 189.3L927.1 192.2L925.2 195.3L922.9 198.5L920.0 202.0L916.5 205.8L912.3 210.1L907.8 214.5L903.1 218.9L898.4 223.2L894.0 227.0L889.8 230.5L885.6 233.8L881.5 236.8L877.4 239.7L873.2 242.5L869.0 245.0L864.7 247.4L860.4 249.6L856.0 251.6L851.6 253.4L847.3 255.0L843.0 256.5L838.8 257.8L834.6 258.9L830.5 259.8L826.4 260.5L822.2 261.1L818.0 261.5L813.7 261.7L809.4 261.8L805.1 261.6L800.7 261.4L796.3 261.0L792.0 260.5L787.7 260.0L783.3 259.3L778.9 258.6L774.6 257.7L770.3 256.7L766.0 255.5L761.7 254.1L757.3 252.4L753.0 250.6L748.8 248.7L744.8 246.8L741.0 245.0L737.5 243.3L734.2 241.6L731.1 240.0L728.1 238.3L725.5 236.7L723.0 235.0L720.8 233.3L718.8 231.5L717.0 229.7L715.5 228.0L714.1 226.4L713.0 225.0L712.1 223.8L711.5 222.8L711.1 221.9L710.9 221.1L710.7 220.5L710.5 220.0Z" fill="url(#gBlade)" stroke="#6a655e" stroke-width="0.8"/>
<path d="M706 221.5 L724 220.5" stroke="#46443f" stroke-width="6.4" stroke-linecap="round"/><path d="M706 221.5 L724 220.5" stroke="#b3b0a9" stroke-width="4.6" stroke-linecap="round"/>
<ellipse cx="727.3" cy="211.2" rx="6.3" ry="8.4" fill="#fff" stroke="#55524d" stroke-width="1" transform="rotate(24 727.3 211.2)"/>
<path d="M716 223 L723 224.3 C734 226 741 218 739.2 209 C738 203 733.5 201.2 730 204" fill="none" stroke="#46443f" stroke-width="5.2" stroke-linecap="round"/>
<path d="M716 223 L723 224.3 C734 226 741 218 739.2 209 C738 203 733.5 201.2 730 204" fill="none" stroke="#b9b6af" stroke-width="3.6" stroke-linecap="round"/>
<text x="0" y="0" transform="translate(793.5 208.3) rotate(-12) skewX(-12) scale(1.08 1.32)" font-family="Liberation Sans, sans-serif" font-weight="bold" font-style="italic" font-size="17.5" fill="#7d7568" stroke="#2b2723" stroke-width="2" paint-order="stroke" letter-spacing="-0.3">babyface</text>
<path d="M167.5 236.0 L203.0 290.0" stroke="#19306f" stroke-width="2.8" stroke-dasharray="2.9 3.2" fill="none"/>
<path d="M858.5 225.0 L858.5 274.0" stroke="#19306f" stroke-width="2.8" stroke-dasharray="2.9 3.2" fill="none"/>
<path d="M151.5 400.5 L288.7 445.0" stroke="#19306f" stroke-width="2.8" stroke-dasharray="2.9 3.2" fill="none"/>
<path d="M261.7 385.0 L288.7 445.0" stroke="#19306f" stroke-width="2.8" stroke-dasharray="2.9 3.2" fill="none"/>
<path d="M334.5 357.0 L288.7 445.0" stroke="#19306f" stroke-width="2.8" stroke-dasharray="2.9 3.2" fill="none"/>
<circle cx="203.0" cy="289.7" r="4.4" fill="#19306f"/>
<circle cx="858.5" cy="218.5" r="4.4" fill="#19306f"/>
<circle cx="151.7" cy="400.5" r="4.4" fill="#19306f"/>
<circle cx="261.5" cy="385.2" r="4.4" fill="#19306f"/>
<circle cx="334.5" cy="357.5" r="4.4" fill="#19306f"/>
</svg>
<div class="t" style="left:16.7px;top:173px;letter-spacing:1.03px">Calculated body form to gain</div>
<div class="t" style="left:16.7px;top:200.7px;letter-spacing:1.3px">steady swimming posture.</div>
<div class="t" style="left:595px;top:293.6px">babyface blade adds confortable</div>
<div class="t" style="left:595px;top:321.3px">reeling, speed balance, and</div>
<div class="t" style="left:595px;top:348.8px;letter-spacing:1.22px">super appealing effect.</div>
<div class="t" style="left:209px;top:454px;letter-spacing:1.16px">Tightly engineered weight system to achieve ideal</div>
<div class="t" style="left:208.5px;top:480.8px;letter-spacing:1.12px">falling position and high swimming ability.</div>
</body></html>
